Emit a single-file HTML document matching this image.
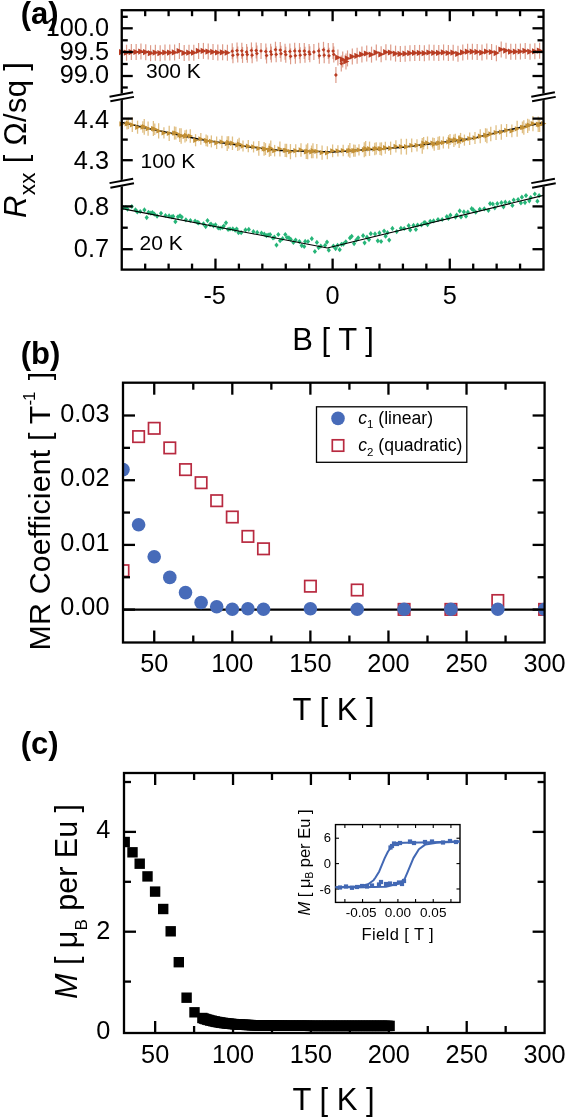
<!DOCTYPE html>
<html><head><meta charset="utf-8"><style>
html,body{margin:0;padding:0;background:#fff;}
svg{display:block;font-family:"Liberation Sans", sans-serif;filter:blur(0.4px);}
</style></head><body>
<svg width="566" height="1119" viewBox="0 0 566 1119">
<rect width="566" height="1119" fill="#fff"/>
<line x1="121.75" y1="51.60" x2="151.75" y2="52.20" stroke="#000" stroke-width="1.5" />
<line x1="121.75" y1="44.10" x2="121.75" y2="60.10" stroke="#d27a62" stroke-width="1.2" opacity="0.75"/>
<line x1="126.55" y1="44.71" x2="126.55" y2="60.71" stroke="#d27a62" stroke-width="1.2" opacity="0.75"/>
<line x1="131.36" y1="44.12" x2="131.36" y2="60.12" stroke="#d27a62" stroke-width="1.2" opacity="0.75"/>
<line x1="136.16" y1="44.05" x2="136.16" y2="60.05" stroke="#d27a62" stroke-width="1.2" opacity="0.75"/>
<line x1="140.96" y1="43.56" x2="140.96" y2="59.56" stroke="#d27a62" stroke-width="1.2" opacity="0.75"/>
<line x1="145.77" y1="44.13" x2="145.77" y2="60.13" stroke="#d27a62" stroke-width="1.2" opacity="0.75"/>
<line x1="150.57" y1="45.19" x2="150.57" y2="61.19" stroke="#d27a62" stroke-width="1.2" opacity="0.75"/>
<line x1="155.37" y1="44.64" x2="155.37" y2="60.64" stroke="#d27a62" stroke-width="1.2" opacity="0.75"/>
<line x1="160.18" y1="45.13" x2="160.18" y2="61.13" stroke="#d27a62" stroke-width="1.2" opacity="0.75"/>
<line x1="164.98" y1="44.50" x2="164.98" y2="60.50" stroke="#d27a62" stroke-width="1.2" opacity="0.75"/>
<line x1="169.78" y1="44.62" x2="169.78" y2="60.62" stroke="#d27a62" stroke-width="1.2" opacity="0.75"/>
<line x1="174.59" y1="44.45" x2="174.59" y2="60.45" stroke="#d27a62" stroke-width="1.2" opacity="0.75"/>
<line x1="179.39" y1="42.97" x2="179.39" y2="58.97" stroke="#d27a62" stroke-width="1.2" opacity="0.75"/>
<line x1="184.19" y1="44.98" x2="184.19" y2="60.98" stroke="#d27a62" stroke-width="1.2" opacity="0.75"/>
<line x1="189.00" y1="44.71" x2="189.00" y2="60.71" stroke="#d27a62" stroke-width="1.2" opacity="0.75"/>
<line x1="193.80" y1="44.70" x2="193.80" y2="60.70" stroke="#d27a62" stroke-width="1.2" opacity="0.75"/>
<line x1="198.60" y1="42.95" x2="198.60" y2="58.95" stroke="#d27a62" stroke-width="1.2" opacity="0.75"/>
<line x1="203.41" y1="42.90" x2="203.41" y2="58.90" stroke="#d27a62" stroke-width="1.2" opacity="0.75"/>
<line x1="208.21" y1="43.59" x2="208.21" y2="59.59" stroke="#d27a62" stroke-width="1.2" opacity="0.75"/>
<line x1="213.01" y1="43.93" x2="213.01" y2="59.93" stroke="#d27a62" stroke-width="1.2" opacity="0.75"/>
<line x1="217.82" y1="44.54" x2="217.82" y2="60.54" stroke="#d27a62" stroke-width="1.2" opacity="0.75"/>
<line x1="222.62" y1="44.26" x2="222.62" y2="60.26" stroke="#d27a62" stroke-width="1.2" opacity="0.75"/>
<line x1="227.42" y1="44.72" x2="227.42" y2="60.72" stroke="#d27a62" stroke-width="1.2" opacity="0.75"/>
<line x1="232.23" y1="43.22" x2="232.23" y2="59.22" stroke="#d27a62" stroke-width="1.2" opacity="0.75"/>
<line x1="232.93" y1="47.28" x2="232.93" y2="63.28" stroke="#d27a62" stroke-width="1.2" opacity="0.75"/>
<line x1="237.03" y1="42.60" x2="237.03" y2="58.60" stroke="#d27a62" stroke-width="1.2" opacity="0.75"/>
<line x1="237.73" y1="46.57" x2="237.73" y2="62.57" stroke="#d27a62" stroke-width="1.2" opacity="0.75"/>
<line x1="241.83" y1="42.76" x2="241.83" y2="58.76" stroke="#d27a62" stroke-width="1.2" opacity="0.75"/>
<line x1="242.53" y1="46.93" x2="242.53" y2="62.93" stroke="#d27a62" stroke-width="1.2" opacity="0.75"/>
<line x1="246.63" y1="44.02" x2="246.63" y2="60.02" stroke="#d27a62" stroke-width="1.2" opacity="0.75"/>
<line x1="247.34" y1="46.64" x2="247.34" y2="62.64" stroke="#d27a62" stroke-width="1.2" opacity="0.75"/>
<line x1="251.44" y1="42.43" x2="251.44" y2="58.43" stroke="#d27a62" stroke-width="1.2" opacity="0.75"/>
<line x1="252.14" y1="47.17" x2="252.14" y2="63.17" stroke="#d27a62" stroke-width="1.2" opacity="0.75"/>
<line x1="256.24" y1="42.50" x2="256.24" y2="58.50" stroke="#d27a62" stroke-width="1.2" opacity="0.75"/>
<line x1="256.94" y1="45.59" x2="256.94" y2="61.59" stroke="#d27a62" stroke-width="1.2" opacity="0.75"/>
<line x1="261.04" y1="42.93" x2="261.04" y2="58.93" stroke="#d27a62" stroke-width="1.2" opacity="0.75"/>
<line x1="265.85" y1="43.54" x2="265.85" y2="59.54" stroke="#d27a62" stroke-width="1.2" opacity="0.75"/>
<line x1="266.55" y1="47.49" x2="266.55" y2="63.49" stroke="#d27a62" stroke-width="1.2" opacity="0.75"/>
<line x1="270.65" y1="43.66" x2="270.65" y2="59.66" stroke="#d27a62" stroke-width="1.2" opacity="0.75"/>
<line x1="271.35" y1="46.41" x2="271.35" y2="62.41" stroke="#d27a62" stroke-width="1.2" opacity="0.75"/>
<line x1="275.45" y1="41.72" x2="275.45" y2="57.72" stroke="#d27a62" stroke-width="1.2" opacity="0.75"/>
<line x1="276.16" y1="46.37" x2="276.16" y2="62.37" stroke="#d27a62" stroke-width="1.2" opacity="0.75"/>
<line x1="280.26" y1="42.11" x2="280.26" y2="58.11" stroke="#d27a62" stroke-width="1.2" opacity="0.75"/>
<line x1="280.96" y1="45.71" x2="280.96" y2="61.71" stroke="#d27a62" stroke-width="1.2" opacity="0.75"/>
<line x1="285.06" y1="43.75" x2="285.06" y2="59.75" stroke="#d27a62" stroke-width="1.2" opacity="0.75"/>
<line x1="285.76" y1="46.73" x2="285.76" y2="62.73" stroke="#d27a62" stroke-width="1.2" opacity="0.75"/>
<line x1="289.86" y1="43.40" x2="289.86" y2="59.40" stroke="#d27a62" stroke-width="1.2" opacity="0.75"/>
<line x1="290.57" y1="48.30" x2="290.57" y2="64.30" stroke="#d27a62" stroke-width="1.2" opacity="0.75"/>
<line x1="294.67" y1="42.85" x2="294.67" y2="58.85" stroke="#d27a62" stroke-width="1.2" opacity="0.75"/>
<line x1="295.37" y1="47.67" x2="295.37" y2="63.67" stroke="#d27a62" stroke-width="1.2" opacity="0.75"/>
<line x1="299.47" y1="43.11" x2="299.47" y2="59.11" stroke="#d27a62" stroke-width="1.2" opacity="0.75"/>
<line x1="300.17" y1="47.18" x2="300.17" y2="63.18" stroke="#d27a62" stroke-width="1.2" opacity="0.75"/>
<line x1="304.27" y1="43.04" x2="304.27" y2="59.04" stroke="#d27a62" stroke-width="1.2" opacity="0.75"/>
<line x1="304.98" y1="46.63" x2="304.98" y2="62.63" stroke="#d27a62" stroke-width="1.2" opacity="0.75"/>
<line x1="309.08" y1="43.90" x2="309.08" y2="59.90" stroke="#d27a62" stroke-width="1.2" opacity="0.75"/>
<line x1="309.78" y1="46.16" x2="309.78" y2="62.16" stroke="#d27a62" stroke-width="1.2" opacity="0.75"/>
<line x1="313.88" y1="43.96" x2="313.88" y2="59.96" stroke="#d27a62" stroke-width="1.2" opacity="0.75"/>
<line x1="318.68" y1="42.87" x2="318.68" y2="58.87" stroke="#d27a62" stroke-width="1.2" opacity="0.75"/>
<line x1="319.39" y1="47.71" x2="319.39" y2="63.71" stroke="#d27a62" stroke-width="1.2" opacity="0.75"/>
<line x1="323.49" y1="41.83" x2="323.49" y2="57.83" stroke="#d27a62" stroke-width="1.2" opacity="0.75"/>
<line x1="324.19" y1="47.23" x2="324.19" y2="63.23" stroke="#d27a62" stroke-width="1.2" opacity="0.75"/>
<line x1="328.29" y1="43.08" x2="328.29" y2="59.08" stroke="#d27a62" stroke-width="1.2" opacity="0.75"/>
<line x1="328.99" y1="47.80" x2="328.99" y2="63.80" stroke="#d27a62" stroke-width="1.2" opacity="0.75"/>
<line x1="333.09" y1="43.06" x2="333.09" y2="59.06" stroke="#d27a62" stroke-width="1.2" opacity="0.75"/>
<line x1="333.80" y1="46.38" x2="333.80" y2="62.38" stroke="#d27a62" stroke-width="1.2" opacity="0.75"/>
<line x1="337.90" y1="49.53" x2="337.90" y2="65.53" stroke="#d27a62" stroke-width="1.2" opacity="0.75"/>
<line x1="342.70" y1="51.48" x2="342.70" y2="67.48" stroke="#d27a62" stroke-width="1.2" opacity="0.75"/>
<line x1="347.50" y1="50.41" x2="347.50" y2="66.41" stroke="#d27a62" stroke-width="1.2" opacity="0.75"/>
<line x1="352.31" y1="48.59" x2="352.31" y2="64.59" stroke="#d27a62" stroke-width="1.2" opacity="0.75"/>
<line x1="357.11" y1="47.81" x2="357.11" y2="63.81" stroke="#d27a62" stroke-width="1.2" opacity="0.75"/>
<line x1="361.91" y1="46.39" x2="361.91" y2="62.39" stroke="#d27a62" stroke-width="1.2" opacity="0.75"/>
<line x1="366.72" y1="45.55" x2="366.72" y2="61.55" stroke="#d27a62" stroke-width="1.2" opacity="0.75"/>
<line x1="371.52" y1="46.63" x2="371.52" y2="62.63" stroke="#d27a62" stroke-width="1.2" opacity="0.75"/>
<line x1="376.32" y1="44.57" x2="376.32" y2="60.57" stroke="#d27a62" stroke-width="1.2" opacity="0.75"/>
<line x1="381.13" y1="46.32" x2="381.13" y2="62.32" stroke="#d27a62" stroke-width="1.2" opacity="0.75"/>
<line x1="385.93" y1="44.23" x2="385.93" y2="60.23" stroke="#d27a62" stroke-width="1.2" opacity="0.75"/>
<line x1="390.73" y1="44.54" x2="390.73" y2="60.54" stroke="#d27a62" stroke-width="1.2" opacity="0.75"/>
<line x1="395.54" y1="45.61" x2="395.54" y2="61.61" stroke="#d27a62" stroke-width="1.2" opacity="0.75"/>
<line x1="400.34" y1="45.94" x2="400.34" y2="61.94" stroke="#d27a62" stroke-width="1.2" opacity="0.75"/>
<line x1="405.14" y1="45.66" x2="405.14" y2="61.66" stroke="#d27a62" stroke-width="1.2" opacity="0.75"/>
<line x1="409.95" y1="45.18" x2="409.95" y2="61.18" stroke="#d27a62" stroke-width="1.2" opacity="0.75"/>
<line x1="414.75" y1="44.95" x2="414.75" y2="60.95" stroke="#d27a62" stroke-width="1.2" opacity="0.75"/>
<line x1="419.55" y1="44.89" x2="419.55" y2="60.89" stroke="#d27a62" stroke-width="1.2" opacity="0.75"/>
<line x1="424.36" y1="45.16" x2="424.36" y2="61.16" stroke="#d27a62" stroke-width="1.2" opacity="0.75"/>
<line x1="429.16" y1="44.49" x2="429.16" y2="60.49" stroke="#d27a62" stroke-width="1.2" opacity="0.75"/>
<line x1="433.96" y1="44.78" x2="433.96" y2="60.78" stroke="#d27a62" stroke-width="1.2" opacity="0.75"/>
<line x1="438.77" y1="44.95" x2="438.77" y2="60.95" stroke="#d27a62" stroke-width="1.2" opacity="0.75"/>
<line x1="443.57" y1="44.42" x2="443.57" y2="60.42" stroke="#d27a62" stroke-width="1.2" opacity="0.75"/>
<line x1="448.37" y1="44.96" x2="448.37" y2="60.96" stroke="#d27a62" stroke-width="1.2" opacity="0.75"/>
<line x1="453.18" y1="44.74" x2="453.18" y2="60.74" stroke="#d27a62" stroke-width="1.2" opacity="0.75"/>
<line x1="457.98" y1="45.83" x2="457.98" y2="61.83" stroke="#d27a62" stroke-width="1.2" opacity="0.75"/>
<line x1="462.78" y1="44.41" x2="462.78" y2="60.41" stroke="#d27a62" stroke-width="1.2" opacity="0.75"/>
<line x1="467.59" y1="43.74" x2="467.59" y2="59.74" stroke="#d27a62" stroke-width="1.2" opacity="0.75"/>
<line x1="472.39" y1="43.71" x2="472.39" y2="59.71" stroke="#d27a62" stroke-width="1.2" opacity="0.75"/>
<line x1="477.19" y1="43.93" x2="477.19" y2="59.93" stroke="#d27a62" stroke-width="1.2" opacity="0.75"/>
<line x1="481.99" y1="44.61" x2="481.99" y2="60.61" stroke="#d27a62" stroke-width="1.2" opacity="0.75"/>
<line x1="486.80" y1="43.54" x2="486.80" y2="59.54" stroke="#d27a62" stroke-width="1.2" opacity="0.75"/>
<line x1="491.60" y1="44.05" x2="491.60" y2="60.05" stroke="#d27a62" stroke-width="1.2" opacity="0.75"/>
<line x1="496.40" y1="45.14" x2="496.40" y2="61.14" stroke="#d27a62" stroke-width="1.2" opacity="0.75"/>
<line x1="501.21" y1="41.55" x2="501.21" y2="57.55" stroke="#d27a62" stroke-width="1.2" opacity="0.75"/>
<line x1="506.01" y1="42.63" x2="506.01" y2="58.63" stroke="#d27a62" stroke-width="1.2" opacity="0.75"/>
<line x1="510.81" y1="43.66" x2="510.81" y2="59.66" stroke="#d27a62" stroke-width="1.2" opacity="0.75"/>
<line x1="515.62" y1="43.72" x2="515.62" y2="59.72" stroke="#d27a62" stroke-width="1.2" opacity="0.75"/>
<line x1="520.42" y1="43.52" x2="520.42" y2="59.52" stroke="#d27a62" stroke-width="1.2" opacity="0.75"/>
<line x1="525.22" y1="42.92" x2="525.22" y2="58.92" stroke="#d27a62" stroke-width="1.2" opacity="0.75"/>
<line x1="530.03" y1="43.72" x2="530.03" y2="59.72" stroke="#d27a62" stroke-width="1.2" opacity="0.75"/>
<line x1="534.83" y1="43.35" x2="534.83" y2="59.35" stroke="#d27a62" stroke-width="1.2" opacity="0.75"/>
<line x1="539.63" y1="42.64" x2="539.63" y2="58.64" stroke="#d27a62" stroke-width="1.2" opacity="0.75"/>
<line x1="335.91" y1="67.00" x2="335.91" y2="83.00" stroke="#d27a62" stroke-width="1.2" opacity="0.75"/>
<line x1="341.29" y1="55.50" x2="341.29" y2="71.50" stroke="#d27a62" stroke-width="1.2" opacity="0.75"/>
<line x1="345.98" y1="53.50" x2="345.98" y2="69.50" stroke="#d27a62" stroke-width="1.2" opacity="0.75"/>
<path d="M119.0 49.0L125.2 52.1L119.0 55.2Z" fill="#b83c22" opacity="1"/>
<path d="M123.8 49.6L130.0 52.7L123.8 55.8Z" fill="#b83c22" opacity="1"/>
<path d="M128.6 49.0L134.8 52.1L128.6 55.2Z" fill="#b83c22" opacity="1"/>
<path d="M133.4 48.9L139.6 52.0L133.4 55.1Z" fill="#b83c22" opacity="1"/>
<path d="M138.2 48.5L144.4 51.6L138.2 54.7Z" fill="#b83c22" opacity="1"/>
<path d="M143.0 49.0L149.2 52.1L143.0 55.2Z" fill="#b83c22" opacity="1"/>
<path d="M147.8 50.1L154.0 53.2L147.8 56.3Z" fill="#b83c22" opacity="1"/>
<path d="M152.6 49.5L158.8 52.6L152.6 55.7Z" fill="#b83c22" opacity="1"/>
<path d="M157.4 50.0L163.6 53.1L157.4 56.2Z" fill="#b83c22" opacity="1"/>
<path d="M162.2 49.4L168.4 52.5L162.2 55.6Z" fill="#b83c22" opacity="1"/>
<path d="M167.0 49.5L173.2 52.6L167.0 55.7Z" fill="#b83c22" opacity="1"/>
<path d="M171.8 49.3L178.0 52.4L171.8 55.5Z" fill="#b83c22" opacity="1"/>
<path d="M176.6 47.9L182.8 51.0L176.6 54.1Z" fill="#b83c22" opacity="1"/>
<path d="M181.4 49.9L187.6 53.0L181.4 56.1Z" fill="#b83c22" opacity="1"/>
<path d="M186.2 49.6L192.4 52.7L186.2 55.8Z" fill="#b83c22" opacity="1"/>
<path d="M191.0 49.6L197.2 52.7L191.0 55.8Z" fill="#b83c22" opacity="1"/>
<path d="M195.8 47.8L202.0 50.9L195.8 54.0Z" fill="#b83c22" opacity="1"/>
<path d="M200.6 47.8L206.8 50.9L200.6 54.0Z" fill="#b83c22" opacity="1"/>
<path d="M205.4 48.5L211.6 51.6L205.4 54.7Z" fill="#b83c22" opacity="1"/>
<path d="M210.2 48.8L216.4 51.9L210.2 55.0Z" fill="#b83c22" opacity="1"/>
<path d="M215.0 49.4L221.2 52.5L215.0 55.6Z" fill="#b83c22" opacity="1"/>
<path d="M219.8 49.2L226.0 52.3L219.8 55.4Z" fill="#b83c22" opacity="1"/>
<path d="M224.6 49.6L230.8 52.7L224.6 55.8Z" fill="#b83c22" opacity="1"/>
<path d="M232.2 49.3L234.1 51.2L232.2 53.1L230.3 51.2Z" fill="#b83c22"/>
<path d="M232.9 53.4L234.8 55.3L232.9 57.2L231.0 55.3Z" fill="#b83c22"/>
<path d="M237.0 48.7L238.9 50.6L237.0 52.5L235.1 50.6Z" fill="#b83c22"/>
<path d="M237.7 52.7L239.6 54.6L237.7 56.5L235.8 54.6Z" fill="#b83c22"/>
<path d="M241.8 48.9L243.7 50.8L241.8 52.7L239.9 50.8Z" fill="#b83c22"/>
<path d="M242.5 53.0L244.4 54.9L242.5 56.8L240.6 54.9Z" fill="#b83c22"/>
<path d="M246.6 50.1L248.5 52.0L246.6 53.9L244.7 52.0Z" fill="#b83c22"/>
<path d="M247.3 52.7L249.2 54.6L247.3 56.5L245.4 54.6Z" fill="#b83c22"/>
<path d="M251.4 48.5L253.3 50.4L251.4 52.3L249.5 50.4Z" fill="#b83c22"/>
<path d="M252.1 53.3L254.0 55.2L252.1 57.1L250.2 55.2Z" fill="#b83c22"/>
<path d="M256.2 48.6L258.1 50.5L256.2 52.4L254.3 50.5Z" fill="#b83c22"/>
<path d="M256.9 51.7L258.8 53.6L256.9 55.5L255.0 53.6Z" fill="#b83c22"/>
<path d="M261.0 49.0L262.9 50.9L261.0 52.8L259.1 50.9Z" fill="#b83c22"/>
<path d="M265.8 49.6L267.7 51.5L265.8 53.4L263.9 51.5Z" fill="#b83c22"/>
<path d="M266.6 53.6L268.5 55.5L266.6 57.4L264.7 55.5Z" fill="#b83c22"/>
<path d="M270.7 49.8L272.6 51.7L270.7 53.6L268.8 51.7Z" fill="#b83c22"/>
<path d="M271.4 52.5L273.3 54.4L271.4 56.3L269.5 54.4Z" fill="#b83c22"/>
<path d="M275.5 47.8L277.4 49.7L275.5 51.6L273.6 49.7Z" fill="#b83c22"/>
<path d="M276.2 52.5L278.1 54.4L276.2 56.3L274.3 54.4Z" fill="#b83c22"/>
<path d="M280.3 48.2L282.2 50.1L280.3 52.0L278.4 50.1Z" fill="#b83c22"/>
<path d="M281.0 51.8L282.9 53.7L281.0 55.6L279.1 53.7Z" fill="#b83c22"/>
<path d="M285.1 49.8L287.0 51.7L285.1 53.6L283.2 51.7Z" fill="#b83c22"/>
<path d="M285.8 52.8L287.7 54.7L285.8 56.6L283.9 54.7Z" fill="#b83c22"/>
<path d="M289.9 49.5L291.8 51.4L289.9 53.3L288.0 51.4Z" fill="#b83c22"/>
<path d="M290.6 54.4L292.5 56.3L290.6 58.2L288.7 56.3Z" fill="#b83c22"/>
<path d="M294.7 49.0L296.6 50.9L294.7 52.8L292.8 50.9Z" fill="#b83c22"/>
<path d="M295.4 53.8L297.3 55.7L295.4 57.6L293.5 55.7Z" fill="#b83c22"/>
<path d="M299.5 49.2L301.4 51.1L299.5 53.0L297.6 51.1Z" fill="#b83c22"/>
<path d="M300.2 53.3L302.1 55.2L300.2 57.1L298.3 55.2Z" fill="#b83c22"/>
<path d="M304.3 49.1L306.2 51.0L304.3 52.9L302.4 51.0Z" fill="#b83c22"/>
<path d="M305.0 52.7L306.9 54.6L305.0 56.5L303.1 54.6Z" fill="#b83c22"/>
<path d="M309.1 50.0L311.0 51.9L309.1 53.8L307.2 51.9Z" fill="#b83c22"/>
<path d="M309.8 52.3L311.7 54.2L309.8 56.1L307.9 54.2Z" fill="#b83c22"/>
<path d="M313.9 50.1L315.8 52.0L313.9 53.9L312.0 52.0Z" fill="#b83c22"/>
<path d="M318.7 49.0L320.6 50.9L318.7 52.8L316.8 50.9Z" fill="#b83c22"/>
<path d="M319.4 53.8L321.3 55.7L319.4 57.6L317.5 55.7Z" fill="#b83c22"/>
<path d="M323.5 47.9L325.4 49.8L323.5 51.7L321.6 49.8Z" fill="#b83c22"/>
<path d="M324.2 53.3L326.1 55.2L324.2 57.1L322.3 55.2Z" fill="#b83c22"/>
<path d="M328.3 49.2L330.2 51.1L328.3 53.0L326.4 51.1Z" fill="#b83c22"/>
<path d="M329.0 53.9L330.9 55.8L329.0 57.7L327.1 55.8Z" fill="#b83c22"/>
<path d="M333.1 49.2L335.0 51.1L333.1 53.0L331.2 51.1Z" fill="#b83c22"/>
<path d="M333.8 52.5L335.7 54.4L333.8 56.3L331.9 54.4Z" fill="#b83c22"/>
<path d="M335.1 54.4L341.3 57.5L335.1 60.6Z" fill="#b83c22" opacity="1"/>
<path d="M339.9 56.4L346.1 59.5L339.9 62.6Z" fill="#b83c22" opacity="1"/>
<path d="M344.7 55.3L350.9 58.4L344.7 61.5Z" fill="#b83c22" opacity="1"/>
<path d="M349.5 53.5L355.7 56.6L349.5 59.7Z" fill="#b83c22" opacity="1"/>
<path d="M354.3 52.7L360.5 55.8L354.3 58.9Z" fill="#b83c22" opacity="1"/>
<path d="M359.1 51.3L365.3 54.4L359.1 57.5Z" fill="#b83c22" opacity="1"/>
<path d="M363.9 50.4L370.1 53.5L363.9 56.6Z" fill="#b83c22" opacity="1"/>
<path d="M368.7 51.5L374.9 54.6L368.7 57.7Z" fill="#b83c22" opacity="1"/>
<path d="M373.5 49.5L379.7 52.6L373.5 55.7Z" fill="#b83c22" opacity="1"/>
<path d="M378.3 51.2L384.5 54.3L378.3 57.4Z" fill="#b83c22" opacity="1"/>
<path d="M383.1 49.1L389.3 52.2L383.1 55.3Z" fill="#b83c22" opacity="1"/>
<path d="M387.9 49.4L394.1 52.5L387.9 55.6Z" fill="#b83c22" opacity="1"/>
<path d="M392.7 50.5L398.9 53.6L392.7 56.7Z" fill="#b83c22" opacity="1"/>
<path d="M397.5 50.8L403.7 53.9L397.5 57.0Z" fill="#b83c22" opacity="1"/>
<path d="M402.4 50.6L408.6 53.7L402.4 56.8Z" fill="#b83c22" opacity="1"/>
<path d="M407.2 50.1L413.4 53.2L407.2 56.3Z" fill="#b83c22" opacity="1"/>
<path d="M412.0 49.8L418.2 52.9L412.0 56.0Z" fill="#b83c22" opacity="1"/>
<path d="M416.8 49.8L423.0 52.9L416.8 56.0Z" fill="#b83c22" opacity="1"/>
<path d="M421.6 50.1L427.8 53.2L421.6 56.3Z" fill="#b83c22" opacity="1"/>
<path d="M426.4 49.4L432.6 52.5L426.4 55.6Z" fill="#b83c22" opacity="1"/>
<path d="M431.2 49.7L437.4 52.8L431.2 55.9Z" fill="#b83c22" opacity="1"/>
<path d="M436.0 49.8L442.2 52.9L436.0 56.0Z" fill="#b83c22" opacity="1"/>
<path d="M440.8 49.3L447.0 52.4L440.8 55.5Z" fill="#b83c22" opacity="1"/>
<path d="M445.6 49.9L451.8 53.0L445.6 56.1Z" fill="#b83c22" opacity="1"/>
<path d="M450.4 49.6L456.6 52.7L450.4 55.8Z" fill="#b83c22" opacity="1"/>
<path d="M455.2 50.7L461.4 53.8L455.2 56.9Z" fill="#b83c22" opacity="1"/>
<path d="M460.0 49.3L466.2 52.4L460.0 55.5Z" fill="#b83c22" opacity="1"/>
<path d="M464.8 48.6L471.0 51.7L464.8 54.8Z" fill="#b83c22" opacity="1"/>
<path d="M469.6 48.6L475.8 51.7L469.6 54.8Z" fill="#b83c22" opacity="1"/>
<path d="M474.4 48.8L480.6 51.9L474.4 55.0Z" fill="#b83c22" opacity="1"/>
<path d="M479.2 49.5L485.4 52.6L479.2 55.7Z" fill="#b83c22" opacity="1"/>
<path d="M484.0 48.4L490.2 51.5L484.0 54.6Z" fill="#b83c22" opacity="1"/>
<path d="M488.8 48.9L495.0 52.0L488.8 55.1Z" fill="#b83c22" opacity="1"/>
<path d="M493.6 50.0L499.8 53.1L493.6 56.2Z" fill="#b83c22" opacity="1"/>
<path d="M498.4 46.4L504.6 49.5L498.4 52.6Z" fill="#b83c22" opacity="1"/>
<path d="M503.2 47.5L509.4 50.6L503.2 53.7Z" fill="#b83c22" opacity="1"/>
<path d="M508.0 48.6L514.2 51.7L508.0 54.8Z" fill="#b83c22" opacity="1"/>
<path d="M512.8 48.6L519.0 51.7L512.8 54.8Z" fill="#b83c22" opacity="1"/>
<path d="M517.6 48.4L523.8 51.5L517.6 54.6Z" fill="#b83c22" opacity="1"/>
<path d="M522.4 47.8L528.6 50.9L522.4 54.0Z" fill="#b83c22" opacity="1"/>
<path d="M527.2 48.6L533.4 51.7L527.2 54.8Z" fill="#b83c22" opacity="1"/>
<path d="M532.0 48.2L538.2 51.3L532.0 54.4Z" fill="#b83c22" opacity="1"/>
<path d="M536.8 47.5L543.0 50.6L536.8 53.7Z" fill="#b83c22" opacity="1"/>
<path d="M335.9 73.1L337.8 75.0L335.9 76.9L334.0 75.0Z" fill="#b83c22"/>
<path d="M341.3 61.6L343.2 63.5L341.3 65.4L339.4 63.5Z" fill="#b83c22"/>
<path d="M343.2 58.4L349.4 61.5L343.2 64.6Z" fill="#b83c22" opacity="1"/>
<line x1="121.75" y1="116.71" x2="121.75" y2="131.21" stroke="#dbb46e" stroke-width="1.3" opacity="0.85"/>
<line x1="127.02" y1="118.16" x2="127.02" y2="129.61" stroke="#dbb46e" stroke-width="1.3" opacity="0.85"/>
<line x1="128.43" y1="117.80" x2="128.43" y2="129.09" stroke="#dbb46e" stroke-width="1.3" opacity="0.85"/>
<line x1="132.29" y1="117.58" x2="132.29" y2="132.03" stroke="#dbb46e" stroke-width="1.3" opacity="0.85"/>
<line x1="137.57" y1="120.64" x2="137.57" y2="133.76" stroke="#dbb46e" stroke-width="1.3" opacity="0.85"/>
<line x1="142.84" y1="121.34" x2="142.84" y2="132.71" stroke="#dbb46e" stroke-width="1.3" opacity="0.85"/>
<line x1="144.24" y1="118.94" x2="144.24" y2="134.63" stroke="#dbb46e" stroke-width="1.3" opacity="0.85"/>
<line x1="148.11" y1="121.54" x2="148.11" y2="135.71" stroke="#dbb46e" stroke-width="1.3" opacity="0.85"/>
<line x1="153.38" y1="121.00" x2="153.38" y2="136.01" stroke="#dbb46e" stroke-width="1.3" opacity="0.85"/>
<line x1="154.79" y1="123.47" x2="154.79" y2="134.89" stroke="#dbb46e" stroke-width="1.3" opacity="0.85"/>
<line x1="158.65" y1="123.24" x2="158.65" y2="138.53" stroke="#dbb46e" stroke-width="1.3" opacity="0.85"/>
<line x1="163.92" y1="127.25" x2="163.92" y2="138.58" stroke="#dbb46e" stroke-width="1.3" opacity="0.85"/>
<line x1="169.20" y1="125.68" x2="169.20" y2="141.00" stroke="#dbb46e" stroke-width="1.3" opacity="0.85"/>
<line x1="174.47" y1="126.40" x2="174.47" y2="139.67" stroke="#dbb46e" stroke-width="1.3" opacity="0.85"/>
<line x1="175.87" y1="126.80" x2="175.87" y2="139.50" stroke="#dbb46e" stroke-width="1.3" opacity="0.85"/>
<line x1="179.74" y1="128.26" x2="179.74" y2="142.02" stroke="#dbb46e" stroke-width="1.3" opacity="0.85"/>
<line x1="181.15" y1="128.18" x2="181.15" y2="143.82" stroke="#dbb46e" stroke-width="1.3" opacity="0.85"/>
<line x1="185.01" y1="130.24" x2="185.01" y2="142.58" stroke="#dbb46e" stroke-width="1.3" opacity="0.85"/>
<line x1="186.42" y1="129.62" x2="186.42" y2="141.26" stroke="#dbb46e" stroke-width="1.3" opacity="0.85"/>
<line x1="190.28" y1="129.22" x2="190.28" y2="142.86" stroke="#dbb46e" stroke-width="1.3" opacity="0.85"/>
<line x1="195.56" y1="134.12" x2="195.56" y2="146.31" stroke="#dbb46e" stroke-width="1.3" opacity="0.85"/>
<line x1="200.83" y1="133.11" x2="200.83" y2="144.66" stroke="#dbb46e" stroke-width="1.3" opacity="0.85"/>
<line x1="206.10" y1="134.55" x2="206.10" y2="146.36" stroke="#dbb46e" stroke-width="1.3" opacity="0.85"/>
<line x1="207.51" y1="135.45" x2="207.51" y2="146.70" stroke="#dbb46e" stroke-width="1.3" opacity="0.85"/>
<line x1="211.37" y1="135.40" x2="211.37" y2="147.41" stroke="#dbb46e" stroke-width="1.3" opacity="0.85"/>
<line x1="216.64" y1="136.49" x2="216.64" y2="149.05" stroke="#dbb46e" stroke-width="1.3" opacity="0.85"/>
<line x1="221.92" y1="135.63" x2="221.92" y2="148.16" stroke="#dbb46e" stroke-width="1.3" opacity="0.85"/>
<line x1="227.19" y1="136.27" x2="227.19" y2="151.07" stroke="#dbb46e" stroke-width="1.3" opacity="0.85"/>
<line x1="228.59" y1="136.16" x2="228.59" y2="148.61" stroke="#dbb46e" stroke-width="1.3" opacity="0.85"/>
<line x1="232.46" y1="136.49" x2="232.46" y2="149.99" stroke="#dbb46e" stroke-width="1.3" opacity="0.85"/>
<line x1="237.73" y1="139.20" x2="237.73" y2="151.09" stroke="#dbb46e" stroke-width="1.3" opacity="0.85"/>
<line x1="239.14" y1="137.64" x2="239.14" y2="150.37" stroke="#dbb46e" stroke-width="1.3" opacity="0.85"/>
<line x1="243.00" y1="140.53" x2="243.00" y2="151.62" stroke="#dbb46e" stroke-width="1.3" opacity="0.85"/>
<line x1="248.27" y1="140.09" x2="248.27" y2="152.34" stroke="#dbb46e" stroke-width="1.3" opacity="0.85"/>
<line x1="253.55" y1="141.39" x2="253.55" y2="152.47" stroke="#dbb46e" stroke-width="1.3" opacity="0.85"/>
<line x1="258.82" y1="141.07" x2="258.82" y2="155.73" stroke="#dbb46e" stroke-width="1.3" opacity="0.85"/>
<line x1="264.09" y1="141.92" x2="264.09" y2="155.67" stroke="#dbb46e" stroke-width="1.3" opacity="0.85"/>
<line x1="265.50" y1="143.13" x2="265.50" y2="155.07" stroke="#dbb46e" stroke-width="1.3" opacity="0.85"/>
<line x1="269.36" y1="143.47" x2="269.36" y2="156.84" stroke="#dbb46e" stroke-width="1.3" opacity="0.85"/>
<line x1="270.77" y1="140.40" x2="270.77" y2="156.08" stroke="#dbb46e" stroke-width="1.3" opacity="0.85"/>
<line x1="274.63" y1="144.89" x2="274.63" y2="156.42" stroke="#dbb46e" stroke-width="1.3" opacity="0.85"/>
<line x1="279.91" y1="141.45" x2="279.91" y2="156.55" stroke="#dbb46e" stroke-width="1.3" opacity="0.85"/>
<line x1="285.18" y1="143.77" x2="285.18" y2="156.93" stroke="#dbb46e" stroke-width="1.3" opacity="0.85"/>
<line x1="286.58" y1="143.75" x2="286.58" y2="157.23" stroke="#dbb46e" stroke-width="1.3" opacity="0.85"/>
<line x1="290.45" y1="144.07" x2="290.45" y2="159.24" stroke="#dbb46e" stroke-width="1.3" opacity="0.85"/>
<line x1="295.72" y1="144.31" x2="295.72" y2="157.28" stroke="#dbb46e" stroke-width="1.3" opacity="0.85"/>
<line x1="300.99" y1="143.23" x2="300.99" y2="156.76" stroke="#dbb46e" stroke-width="1.3" opacity="0.85"/>
<line x1="306.27" y1="144.53" x2="306.27" y2="158.97" stroke="#dbb46e" stroke-width="1.3" opacity="0.85"/>
<line x1="307.67" y1="143.29" x2="307.67" y2="159.20" stroke="#dbb46e" stroke-width="1.3" opacity="0.85"/>
<line x1="311.54" y1="145.55" x2="311.54" y2="158.27" stroke="#dbb46e" stroke-width="1.3" opacity="0.85"/>
<line x1="312.94" y1="143.17" x2="312.94" y2="158.33" stroke="#dbb46e" stroke-width="1.3" opacity="0.85"/>
<line x1="316.81" y1="144.05" x2="316.81" y2="158.59" stroke="#dbb46e" stroke-width="1.3" opacity="0.85"/>
<line x1="322.08" y1="145.52" x2="322.08" y2="159.70" stroke="#dbb46e" stroke-width="1.3" opacity="0.85"/>
<line x1="327.35" y1="146.32" x2="327.35" y2="159.34" stroke="#dbb46e" stroke-width="1.3" opacity="0.85"/>
<line x1="332.62" y1="144.46" x2="332.62" y2="157.20" stroke="#dbb46e" stroke-width="1.3" opacity="0.85"/>
<line x1="337.90" y1="145.32" x2="337.90" y2="156.60" stroke="#dbb46e" stroke-width="1.3" opacity="0.85"/>
<line x1="343.17" y1="144.70" x2="343.17" y2="156.35" stroke="#dbb46e" stroke-width="1.3" opacity="0.85"/>
<line x1="348.44" y1="145.23" x2="348.44" y2="156.58" stroke="#dbb46e" stroke-width="1.3" opacity="0.85"/>
<line x1="349.85" y1="142.97" x2="349.85" y2="157.67" stroke="#dbb46e" stroke-width="1.3" opacity="0.85"/>
<line x1="353.71" y1="144.56" x2="353.71" y2="156.84" stroke="#dbb46e" stroke-width="1.3" opacity="0.85"/>
<line x1="355.12" y1="144.84" x2="355.12" y2="156.66" stroke="#dbb46e" stroke-width="1.3" opacity="0.85"/>
<line x1="358.98" y1="144.15" x2="358.98" y2="155.57" stroke="#dbb46e" stroke-width="1.3" opacity="0.85"/>
<line x1="364.26" y1="142.14" x2="364.26" y2="157.35" stroke="#dbb46e" stroke-width="1.3" opacity="0.85"/>
<line x1="365.66" y1="140.93" x2="365.66" y2="156.28" stroke="#dbb46e" stroke-width="1.3" opacity="0.85"/>
<line x1="369.53" y1="141.58" x2="369.53" y2="155.93" stroke="#dbb46e" stroke-width="1.3" opacity="0.85"/>
<line x1="374.80" y1="142.87" x2="374.80" y2="155.28" stroke="#dbb46e" stroke-width="1.3" opacity="0.85"/>
<line x1="376.21" y1="142.36" x2="376.21" y2="154.57" stroke="#dbb46e" stroke-width="1.3" opacity="0.85"/>
<line x1="380.07" y1="142.42" x2="380.07" y2="154.88" stroke="#dbb46e" stroke-width="1.3" opacity="0.85"/>
<line x1="381.48" y1="142.34" x2="381.48" y2="155.63" stroke="#dbb46e" stroke-width="1.3" opacity="0.85"/>
<line x1="385.34" y1="141.87" x2="385.34" y2="153.66" stroke="#dbb46e" stroke-width="1.3" opacity="0.85"/>
<line x1="390.62" y1="141.59" x2="390.62" y2="154.82" stroke="#dbb46e" stroke-width="1.3" opacity="0.85"/>
<line x1="395.89" y1="140.29" x2="395.89" y2="152.61" stroke="#dbb46e" stroke-width="1.3" opacity="0.85"/>
<line x1="401.16" y1="138.74" x2="401.16" y2="154.55" stroke="#dbb46e" stroke-width="1.3" opacity="0.85"/>
<line x1="406.43" y1="138.77" x2="406.43" y2="154.63" stroke="#dbb46e" stroke-width="1.3" opacity="0.85"/>
<line x1="411.70" y1="138.56" x2="411.70" y2="152.29" stroke="#dbb46e" stroke-width="1.3" opacity="0.85"/>
<line x1="416.97" y1="139.21" x2="416.97" y2="151.43" stroke="#dbb46e" stroke-width="1.3" opacity="0.85"/>
<line x1="422.25" y1="137.94" x2="422.25" y2="153.77" stroke="#dbb46e" stroke-width="1.3" opacity="0.85"/>
<line x1="423.65" y1="136.88" x2="423.65" y2="149.43" stroke="#dbb46e" stroke-width="1.3" opacity="0.85"/>
<line x1="427.52" y1="136.47" x2="427.52" y2="149.25" stroke="#dbb46e" stroke-width="1.3" opacity="0.85"/>
<line x1="432.79" y1="137.54" x2="432.79" y2="148.54" stroke="#dbb46e" stroke-width="1.3" opacity="0.85"/>
<line x1="434.20" y1="137.89" x2="434.20" y2="150.80" stroke="#dbb46e" stroke-width="1.3" opacity="0.85"/>
<line x1="438.06" y1="136.69" x2="438.06" y2="150.07" stroke="#dbb46e" stroke-width="1.3" opacity="0.85"/>
<line x1="439.47" y1="136.20" x2="439.47" y2="149.71" stroke="#dbb46e" stroke-width="1.3" opacity="0.85"/>
<line x1="443.33" y1="136.53" x2="443.33" y2="148.54" stroke="#dbb46e" stroke-width="1.3" opacity="0.85"/>
<line x1="448.61" y1="135.18" x2="448.61" y2="148.70" stroke="#dbb46e" stroke-width="1.3" opacity="0.85"/>
<line x1="450.01" y1="134.07" x2="450.01" y2="145.10" stroke="#dbb46e" stroke-width="1.3" opacity="0.85"/>
<line x1="453.88" y1="134.62" x2="453.88" y2="146.95" stroke="#dbb46e" stroke-width="1.3" opacity="0.85"/>
<line x1="455.28" y1="133.81" x2="455.28" y2="145.26" stroke="#dbb46e" stroke-width="1.3" opacity="0.85"/>
<line x1="459.15" y1="134.92" x2="459.15" y2="147.92" stroke="#dbb46e" stroke-width="1.3" opacity="0.85"/>
<line x1="460.56" y1="132.89" x2="460.56" y2="144.10" stroke="#dbb46e" stroke-width="1.3" opacity="0.85"/>
<line x1="464.42" y1="134.56" x2="464.42" y2="145.67" stroke="#dbb46e" stroke-width="1.3" opacity="0.85"/>
<line x1="469.69" y1="132.38" x2="469.69" y2="144.90" stroke="#dbb46e" stroke-width="1.3" opacity="0.85"/>
<line x1="474.97" y1="131.88" x2="474.97" y2="144.05" stroke="#dbb46e" stroke-width="1.3" opacity="0.85"/>
<line x1="480.24" y1="129.26" x2="480.24" y2="143.18" stroke="#dbb46e" stroke-width="1.3" opacity="0.85"/>
<line x1="485.51" y1="128.23" x2="485.51" y2="141.88" stroke="#dbb46e" stroke-width="1.3" opacity="0.85"/>
<line x1="486.92" y1="128.45" x2="486.92" y2="143.20" stroke="#dbb46e" stroke-width="1.3" opacity="0.85"/>
<line x1="490.78" y1="126.84" x2="490.78" y2="141.13" stroke="#dbb46e" stroke-width="1.3" opacity="0.85"/>
<line x1="496.05" y1="125.34" x2="496.05" y2="139.92" stroke="#dbb46e" stroke-width="1.3" opacity="0.85"/>
<line x1="501.32" y1="124.35" x2="501.32" y2="139.75" stroke="#dbb46e" stroke-width="1.3" opacity="0.85"/>
<line x1="506.60" y1="123.98" x2="506.60" y2="136.92" stroke="#dbb46e" stroke-width="1.3" opacity="0.85"/>
<line x1="511.87" y1="124.55" x2="511.87" y2="137.18" stroke="#dbb46e" stroke-width="1.3" opacity="0.85"/>
<line x1="517.14" y1="120.86" x2="517.14" y2="136.78" stroke="#dbb46e" stroke-width="1.3" opacity="0.85"/>
<line x1="522.41" y1="121.51" x2="522.41" y2="133.25" stroke="#dbb46e" stroke-width="1.3" opacity="0.85"/>
<line x1="523.82" y1="120.18" x2="523.82" y2="134.80" stroke="#dbb46e" stroke-width="1.3" opacity="0.85"/>
<line x1="527.68" y1="118.86" x2="527.68" y2="133.08" stroke="#dbb46e" stroke-width="1.3" opacity="0.85"/>
<line x1="529.09" y1="119.49" x2="529.09" y2="130.71" stroke="#dbb46e" stroke-width="1.3" opacity="0.85"/>
<line x1="532.96" y1="116.00" x2="532.96" y2="131.18" stroke="#dbb46e" stroke-width="1.3" opacity="0.85"/>
<line x1="538.23" y1="116.52" x2="538.23" y2="131.98" stroke="#dbb46e" stroke-width="1.3" opacity="0.85"/>
<line x1="539.63" y1="117.88" x2="539.63" y2="132.02" stroke="#dbb46e" stroke-width="1.3" opacity="0.85"/>
<line x1="543.50" y1="116.25" x2="543.50" y2="130.92" stroke="#dbb46e" stroke-width="1.3" opacity="0.85"/>
<polyline points="121.8,122.5 125.3,123.3 128.8,124.1 132.3,124.8 135.8,125.6 139.3,126.4 142.8,127.2 146.4,128.0 149.9,128.7 153.4,129.5 156.9,130.3 160.4,131.1 163.9,131.8 167.4,132.6 171.0,133.3 174.5,134.1 178.0,134.8 181.5,135.6 185.0,136.3 188.5,137.1 192.0,137.8 195.6,138.6 199.1,139.3 202.6,139.8 206.1,140.4 209.6,140.9 213.1,141.4 216.6,142.0 220.2,142.5 223.7,143.0 227.2,143.6 230.7,144.1 234.2,144.6 237.7,145.1 241.2,145.7 244.8,146.2 248.3,146.7 251.8,147.2 255.3,147.6 258.8,148.0 262.3,148.4 265.8,148.8 269.4,149.3 272.9,149.7 276.4,150.1 279.9,150.5 283.4,150.6 286.9,150.7 290.4,150.8 294.0,150.9 297.5,151.0 301.0,151.1 304.5,151.2 308.0,151.3 311.5,151.4 315.1,151.5 318.6,151.6 322.1,151.7 325.6,151.8 329.1,151.9 332.6,152.0 336.1,151.7 339.7,151.5 343.2,151.3 346.7,151.0 350.2,150.8 353.7,150.6 357.2,150.3 360.7,150.1 364.3,149.9 367.8,149.6 371.3,149.4 374.8,149.2 378.3,148.9 381.8,148.7 385.3,148.5 388.9,148.2 392.4,148.0 395.9,147.8 399.4,147.5 402.9,147.2 406.4,146.7 409.9,146.3 413.5,145.9 417.0,145.5 420.5,145.0 424.0,144.6 427.5,144.2 431.0,143.8 434.5,143.4 438.1,142.9 441.6,142.5 445.1,142.1 448.6,141.7 452.1,141.2 455.6,140.7 459.1,140.3 462.7,139.8 466.2,139.3 469.7,138.8 473.2,138.2 476.7,137.4 480.2,136.5 483.8,135.7 487.3,134.8 490.8,134.0 494.3,133.2 497.8,132.3 501.3,131.5 504.8,130.8 508.4,130.0 511.9,129.3 515.4,128.5 518.9,127.8 522.4,127.0 525.9,126.3 529.4,125.5 533.0,124.8 536.5,124.0 540.0,123.3 543.5,122.5" fill="none" stroke="#000" stroke-width="1.5" stroke-linejoin="round"/>
<path d="M119.4 121.3L124.7 124.0L119.4 126.6Z" fill="#c28f34" opacity="1"/>
<path d="M124.6 121.2L129.9 123.9L124.6 126.5Z" fill="#c28f34" opacity="1"/>
<path d="M126.0 120.8L131.3 123.4L126.0 126.1Z" fill="#c28f34" opacity="1"/>
<path d="M129.9 122.2L135.2 124.8L129.9 127.5Z" fill="#c28f34" opacity="1"/>
<path d="M135.2 124.6L140.5 127.2L135.2 129.9Z" fill="#c28f34" opacity="1"/>
<path d="M140.5 124.4L145.8 127.0L140.5 129.7Z" fill="#c28f34" opacity="1"/>
<path d="M141.9 124.1L147.2 126.8L141.9 129.4Z" fill="#c28f34" opacity="1"/>
<path d="M145.7 126.0L151.0 128.6L145.7 131.3Z" fill="#c28f34" opacity="1"/>
<path d="M151.0 125.9L156.3 128.5L151.0 131.2Z" fill="#c28f34" opacity="1"/>
<path d="M152.4 126.5L157.7 129.2L152.4 131.8Z" fill="#c28f34" opacity="1"/>
<path d="M156.3 128.2L161.6 130.9L156.3 133.5Z" fill="#c28f34" opacity="1"/>
<path d="M161.5 130.3L166.8 132.9L161.5 135.6Z" fill="#c28f34" opacity="1"/>
<path d="M166.8 130.7L172.1 133.3L166.8 136.0Z" fill="#c28f34" opacity="1"/>
<path d="M172.1 130.4L177.4 133.0L172.1 135.7Z" fill="#c28f34" opacity="1"/>
<path d="M173.5 130.5L178.8 133.1L173.5 135.8Z" fill="#c28f34" opacity="1"/>
<path d="M177.4 132.5L182.7 135.1L177.4 137.8Z" fill="#c28f34" opacity="1"/>
<path d="M178.8 133.3L184.1 136.0L178.8 138.6Z" fill="#c28f34" opacity="1"/>
<path d="M182.6 133.8L187.9 136.4L182.6 139.1Z" fill="#c28f34" opacity="1"/>
<path d="M184.0 132.8L189.3 135.4L184.0 138.1Z" fill="#c28f34" opacity="1"/>
<path d="M187.9 133.4L193.2 136.0L187.9 138.7Z" fill="#c28f34" opacity="1"/>
<path d="M193.2 137.6L198.5 140.2L193.2 142.9Z" fill="#c28f34" opacity="1"/>
<path d="M198.4 136.2L203.7 138.9L198.4 141.5Z" fill="#c28f34" opacity="1"/>
<path d="M203.7 137.8L209.0 140.5L203.7 143.1Z" fill="#c28f34" opacity="1"/>
<path d="M205.1 138.4L210.4 141.1L205.1 143.7Z" fill="#c28f34" opacity="1"/>
<path d="M209.0 138.8L214.3 141.4L209.0 144.1Z" fill="#c28f34" opacity="1"/>
<path d="M214.3 140.1L219.6 142.8L214.3 145.4Z" fill="#c28f34" opacity="1"/>
<path d="M219.5 139.2L224.8 141.9L219.5 144.5Z" fill="#c28f34" opacity="1"/>
<path d="M224.8 141.0L230.1 143.7L224.8 146.3Z" fill="#c28f34" opacity="1"/>
<path d="M226.2 139.7L231.5 142.4L226.2 145.0Z" fill="#c28f34" opacity="1"/>
<path d="M230.1 140.6L235.4 143.2L230.1 145.9Z" fill="#c28f34" opacity="1"/>
<path d="M235.3 142.5L240.6 145.1L235.3 147.8Z" fill="#c28f34" opacity="1"/>
<path d="M236.8 141.4L242.1 144.0L236.8 146.7Z" fill="#c28f34" opacity="1"/>
<path d="M240.6 143.4L245.9 146.1L240.6 148.7Z" fill="#c28f34" opacity="1"/>
<path d="M245.9 143.6L251.2 146.2L245.9 148.9Z" fill="#c28f34" opacity="1"/>
<path d="M251.2 144.3L256.5 146.9L251.2 149.6Z" fill="#c28f34" opacity="1"/>
<path d="M256.4 145.7L261.7 148.4L256.4 151.0Z" fill="#c28f34" opacity="1"/>
<path d="M261.7 146.1L267.0 148.8L261.7 151.4Z" fill="#c28f34" opacity="1"/>
<path d="M263.1 146.5L268.4 149.1L263.1 151.8Z" fill="#c28f34" opacity="1"/>
<path d="M267.0 147.5L272.3 150.2L267.0 152.8Z" fill="#c28f34" opacity="1"/>
<path d="M268.4 145.6L273.7 148.2L268.4 150.9Z" fill="#c28f34" opacity="1"/>
<path d="M272.2 148.0L277.5 150.7L272.2 153.3Z" fill="#c28f34" opacity="1"/>
<path d="M277.5 146.3L282.8 149.0L277.5 151.6Z" fill="#c28f34" opacity="1"/>
<path d="M282.8 147.7L288.1 150.3L282.8 153.0Z" fill="#c28f34" opacity="1"/>
<path d="M284.2 147.8L289.5 150.5L284.2 153.1Z" fill="#c28f34" opacity="1"/>
<path d="M288.1 149.0L293.4 151.7L288.1 154.3Z" fill="#c28f34" opacity="1"/>
<path d="M293.3 148.1L298.6 150.8L293.3 153.4Z" fill="#c28f34" opacity="1"/>
<path d="M298.6 147.3L303.9 150.0L298.6 152.6Z" fill="#c28f34" opacity="1"/>
<path d="M303.9 149.1L309.2 151.7L303.9 154.4Z" fill="#c28f34" opacity="1"/>
<path d="M305.3 148.6L310.6 151.2L305.3 153.9Z" fill="#c28f34" opacity="1"/>
<path d="M309.2 149.3L314.5 151.9L309.2 154.6Z" fill="#c28f34" opacity="1"/>
<path d="M310.6 148.1L315.9 150.7L310.6 153.4Z" fill="#c28f34" opacity="1"/>
<path d="M314.4 148.7L319.7 151.3L314.4 154.0Z" fill="#c28f34" opacity="1"/>
<path d="M319.7 150.0L325.0 152.6L319.7 155.3Z" fill="#c28f34" opacity="1"/>
<path d="M325.0 150.2L330.3 152.8L325.0 155.5Z" fill="#c28f34" opacity="1"/>
<path d="M330.2 148.2L335.5 150.8L330.2 153.5Z" fill="#c28f34" opacity="1"/>
<path d="M335.5 148.3L340.8 151.0L335.5 153.6Z" fill="#c28f34" opacity="1"/>
<path d="M340.8 147.9L346.1 150.5L340.8 153.2Z" fill="#c28f34" opacity="1"/>
<path d="M346.1 148.3L351.4 150.9L346.1 153.6Z" fill="#c28f34" opacity="1"/>
<path d="M347.5 147.7L352.8 150.3L347.5 153.0Z" fill="#c28f34" opacity="1"/>
<path d="M351.3 148.1L356.6 150.7L351.3 153.4Z" fill="#c28f34" opacity="1"/>
<path d="M352.7 148.1L358.0 150.8L352.7 153.4Z" fill="#c28f34" opacity="1"/>
<path d="M356.6 147.2L361.9 149.9L356.6 152.5Z" fill="#c28f34" opacity="1"/>
<path d="M361.9 147.1L367.2 149.7L361.9 152.4Z" fill="#c28f34" opacity="1"/>
<path d="M363.3 146.0L368.6 148.6L363.3 151.3Z" fill="#c28f34" opacity="1"/>
<path d="M367.1 146.1L372.4 148.8L367.1 151.4Z" fill="#c28f34" opacity="1"/>
<path d="M372.4 146.4L377.7 149.1L372.4 151.7Z" fill="#c28f34" opacity="1"/>
<path d="M373.8 145.8L379.1 148.5L373.8 151.1Z" fill="#c28f34" opacity="1"/>
<path d="M377.7 146.0L383.0 148.7L377.7 151.3Z" fill="#c28f34" opacity="1"/>
<path d="M379.1 146.3L384.4 149.0L379.1 151.6Z" fill="#c28f34" opacity="1"/>
<path d="M383.0 145.1L388.3 147.8L383.0 150.4Z" fill="#c28f34" opacity="1"/>
<path d="M388.2 145.6L393.5 148.2L388.2 150.9Z" fill="#c28f34" opacity="1"/>
<path d="M393.5 143.8L398.8 146.5L393.5 149.1Z" fill="#c28f34" opacity="1"/>
<path d="M398.8 144.0L404.1 146.6L398.8 149.3Z" fill="#c28f34" opacity="1"/>
<path d="M404.0 144.1L409.3 146.7L404.0 149.4Z" fill="#c28f34" opacity="1"/>
<path d="M409.3 142.8L414.6 145.4L409.3 148.1Z" fill="#c28f34" opacity="1"/>
<path d="M414.6 142.7L419.9 145.3L414.6 148.0Z" fill="#c28f34" opacity="1"/>
<path d="M419.9 143.2L425.2 145.9L419.9 148.5Z" fill="#c28f34" opacity="1"/>
<path d="M421.3 140.5L426.6 143.2L421.3 145.8Z" fill="#c28f34" opacity="1"/>
<path d="M425.1 140.2L430.4 142.9L425.1 145.5Z" fill="#c28f34" opacity="1"/>
<path d="M430.4 140.4L435.7 143.0L430.4 145.7Z" fill="#c28f34" opacity="1"/>
<path d="M431.8 141.7L437.1 144.3L431.8 147.0Z" fill="#c28f34" opacity="1"/>
<path d="M435.7 140.7L441.0 143.4L435.7 146.0Z" fill="#c28f34" opacity="1"/>
<path d="M437.1 140.3L442.4 143.0L437.1 145.6Z" fill="#c28f34" opacity="1"/>
<path d="M440.9 139.9L446.2 142.5L440.9 145.2Z" fill="#c28f34" opacity="1"/>
<path d="M446.2 139.3L451.5 141.9L446.2 144.6Z" fill="#c28f34" opacity="1"/>
<path d="M447.6 136.9L452.9 139.6L447.6 142.2Z" fill="#c28f34" opacity="1"/>
<path d="M451.5 138.1L456.8 140.8L451.5 143.4Z" fill="#c28f34" opacity="1"/>
<path d="M452.9 136.9L458.2 139.5L452.9 142.2Z" fill="#c28f34" opacity="1"/>
<path d="M456.8 138.8L462.1 141.4L456.8 144.1Z" fill="#c28f34" opacity="1"/>
<path d="M458.2 135.8L463.5 138.5L458.2 141.1Z" fill="#c28f34" opacity="1"/>
<path d="M462.0 137.5L467.3 140.1L462.0 142.8Z" fill="#c28f34" opacity="1"/>
<path d="M467.3 136.0L472.6 138.6L467.3 141.3Z" fill="#c28f34" opacity="1"/>
<path d="M472.6 135.3L477.9 138.0L472.6 140.6Z" fill="#c28f34" opacity="1"/>
<path d="M477.9 133.6L483.2 136.2L477.9 138.9Z" fill="#c28f34" opacity="1"/>
<path d="M483.1 132.4L488.4 135.1L483.1 137.7Z" fill="#c28f34" opacity="1"/>
<path d="M484.5 133.2L489.8 135.8L484.5 138.5Z" fill="#c28f34" opacity="1"/>
<path d="M488.4 131.3L493.7 134.0L488.4 136.6Z" fill="#c28f34" opacity="1"/>
<path d="M493.7 130.0L499.0 132.6L493.7 135.3Z" fill="#c28f34" opacity="1"/>
<path d="M498.9 129.4L504.2 132.1L498.9 134.7Z" fill="#c28f34" opacity="1"/>
<path d="M504.2 127.8L509.5 130.5L504.2 133.1Z" fill="#c28f34" opacity="1"/>
<path d="M509.5 128.2L514.8 130.9L509.5 133.5Z" fill="#c28f34" opacity="1"/>
<path d="M514.8 126.2L520.1 128.8L514.8 131.5Z" fill="#c28f34" opacity="1"/>
<path d="M520.0 124.7L525.3 127.4L520.0 130.0Z" fill="#c28f34" opacity="1"/>
<path d="M521.4 124.8L526.7 127.5L521.4 130.1Z" fill="#c28f34" opacity="1"/>
<path d="M525.3 123.3L530.6 126.0L525.3 128.6Z" fill="#c28f34" opacity="1"/>
<path d="M526.7 122.5L532.0 125.1L526.7 127.8Z" fill="#c28f34" opacity="1"/>
<path d="M530.6 120.9L535.9 123.6L530.6 126.2Z" fill="#c28f34" opacity="1"/>
<path d="M535.8 121.6L541.1 124.2L535.8 126.9Z" fill="#c28f34" opacity="1"/>
<path d="M537.2 122.3L542.5 125.0L537.2 127.6Z" fill="#c28f34" opacity="1"/>
<path d="M541.1 120.9L546.4 123.6L541.1 126.2Z" fill="#c28f34" opacity="1"/>
<path d="M123.3 205.1L125.4 207.7L123.3 210.3L121.2 207.7Z" fill="#26b578"/>
<path d="M125.9 205.0L128.0 207.6L125.9 210.2L123.8 207.6Z" fill="#26b578"/>
<path d="M127.5 206.5L129.6 209.1L127.5 211.7L125.4 209.1Z" fill="#26b578"/>
<path d="M131.8 203.9L133.9 206.5L131.8 209.1L129.7 206.5Z" fill="#26b578"/>
<path d="M135.5 207.2L137.6 209.8L135.5 212.4L133.4 209.8Z" fill="#26b578"/>
<path d="M137.3 209.4L139.4 212.0L137.3 214.6L135.2 212.0Z" fill="#26b578"/>
<path d="M140.2 208.9L142.3 211.5L140.2 214.1L138.1 211.5Z" fill="#26b578"/>
<path d="M144.4 207.3L146.5 209.9L144.4 212.5L142.3 209.9Z" fill="#26b578"/>
<path d="M146.7 215.0L148.8 217.6L146.7 220.2L144.6 217.6Z" fill="#26b578"/>
<path d="M148.5 209.7L150.6 212.3L148.5 214.9L146.4 212.3Z" fill="#26b578"/>
<path d="M150.9 210.6L153.0 213.2L150.9 215.8L148.8 213.2Z" fill="#26b578"/>
<path d="M152.4 210.0L154.5 212.6L152.4 215.2L150.3 212.6Z" fill="#26b578"/>
<path d="M154.3 211.5L156.4 214.1L154.3 216.7L152.2 214.1Z" fill="#26b578"/>
<path d="M157.1 213.5L159.2 216.1L157.1 218.7L155.0 216.1Z" fill="#26b578"/>
<path d="M161.0 210.7L163.1 213.3L161.0 215.9L158.9 213.3Z" fill="#26b578"/>
<path d="M165.5 212.9L167.6 215.5L165.5 218.1L163.4 215.5Z" fill="#26b578"/>
<path d="M169.1 213.3L171.2 215.9L169.1 218.5L167.0 215.9Z" fill="#26b578"/>
<path d="M171.9 214.3L174.0 216.9L171.9 219.5L169.8 216.9Z" fill="#26b578"/>
<path d="M173.2 213.8L175.3 216.4L173.2 219.0L171.1 216.4Z" fill="#26b578"/>
<path d="M175.4 219.1L177.5 221.7L175.4 224.3L173.3 221.7Z" fill="#26b578"/>
<path d="M178.0 214.2L180.1 216.8L178.0 219.4L175.9 216.8Z" fill="#26b578"/>
<path d="M180.0 213.2L182.1 215.8L180.0 218.4L177.9 215.8Z" fill="#26b578"/>
<path d="M181.7 214.5L183.8 217.1L181.7 219.7L179.6 217.1Z" fill="#26b578"/>
<path d="M185.9 217.2L188.0 219.8L185.9 222.4L183.8 219.8Z" fill="#26b578"/>
<path d="M190.4 217.9L192.5 220.5L190.4 223.1L188.3 220.5Z" fill="#26b578"/>
<path d="M195.1 218.4L197.2 221.0L195.1 223.6L193.0 221.0Z" fill="#26b578"/>
<path d="M197.5 219.8L199.6 222.4L197.5 225.0L195.4 222.4Z" fill="#26b578"/>
<path d="M198.6 220.2L200.7 222.8L198.6 225.4L196.5 222.8Z" fill="#26b578"/>
<path d="M203.5 221.2L205.6 223.8L203.5 226.4L201.4 223.8Z" fill="#26b578"/>
<path d="M205.7 224.0L207.8 226.6L205.7 229.2L203.6 226.6Z" fill="#26b578"/>
<path d="M207.5 218.0L209.6 220.6L207.5 223.2L205.4 220.6Z" fill="#26b578"/>
<path d="M210.0 222.1L212.1 224.7L210.0 227.3L207.9 224.7Z" fill="#26b578"/>
<path d="M211.0 221.4L213.1 224.0L211.0 226.6L208.9 224.0Z" fill="#26b578"/>
<path d="M213.5 223.2L215.6 225.8L213.5 228.4L211.4 225.8Z" fill="#26b578"/>
<path d="M215.5 222.2L217.6 224.8L215.5 227.4L213.4 224.8Z" fill="#26b578"/>
<path d="M218.3 225.3L220.4 227.9L218.3 230.5L216.2 227.9Z" fill="#26b578"/>
<path d="M220.2 225.6L222.3 228.2L220.2 230.8L218.1 228.2Z" fill="#26b578"/>
<path d="M222.6 224.8L224.7 227.4L222.6 230.0L220.5 227.4Z" fill="#26b578"/>
<path d="M223.8 223.4L225.9 226.0L223.8 228.6L221.7 226.0Z" fill="#26b578"/>
<path d="M226.0 220.2L228.1 222.8L226.0 225.4L223.9 222.8Z" fill="#26b578"/>
<path d="M228.1 226.8L230.2 229.4L228.1 232.0L226.0 229.4Z" fill="#26b578"/>
<path d="M230.0 226.4L232.1 229.0L230.0 231.6L227.9 229.0Z" fill="#26b578"/>
<path d="M232.8 226.3L234.9 228.9L232.8 231.5L230.7 228.9Z" fill="#26b578"/>
<path d="M235.2 227.6L237.3 230.2L235.2 232.8L233.1 230.2Z" fill="#26b578"/>
<path d="M236.7 226.5L238.8 229.1L236.7 231.7L234.6 229.1Z" fill="#26b578"/>
<path d="M238.5 230.1L240.6 232.7L238.5 235.3L236.4 232.7Z" fill="#26b578"/>
<path d="M241.2 230.1L243.3 232.7L241.2 235.3L239.1 232.7Z" fill="#26b578"/>
<path d="M245.5 227.3L247.6 229.9L245.5 232.5L243.4 229.9Z" fill="#26b578"/>
<path d="M248.8 226.8L250.9 229.4L248.8 232.0L246.7 229.4Z" fill="#26b578"/>
<path d="M253.4 229.1L255.5 231.7L253.4 234.3L251.3 231.7Z" fill="#26b578"/>
<path d="M257.2 229.8L259.3 232.4L257.2 235.0L255.1 232.4Z" fill="#26b578"/>
<path d="M261.5 230.4L263.6 233.0L261.5 235.6L259.4 233.0Z" fill="#26b578"/>
<path d="M264.3 231.6L266.4 234.2L264.3 236.8L262.2 234.2Z" fill="#26b578"/>
<path d="M266.5 233.1L268.6 235.7L266.5 238.3L264.4 235.7Z" fill="#26b578"/>
<path d="M268.2 232.4L270.3 235.0L268.2 237.6L266.1 235.0Z" fill="#26b578"/>
<path d="M270.1 232.0L272.2 234.6L270.1 237.2L268.0 234.6Z" fill="#26b578"/>
<path d="M273.0 235.4L275.1 238.0L273.0 240.6L270.9 238.0Z" fill="#26b578"/>
<path d="M274.4 234.6L276.5 237.2L274.4 239.8L272.3 237.2Z" fill="#26b578"/>
<path d="M276.5 242.5L278.6 245.1L276.5 247.7L274.4 245.1Z" fill="#26b578"/>
<path d="M278.3 231.9L280.4 234.5L278.3 237.1L276.2 234.5Z" fill="#26b578"/>
<path d="M280.1 238.1L282.2 240.7L280.1 243.3L278.0 240.7Z" fill="#26b578"/>
<path d="M282.6 236.1L284.7 238.7L282.6 241.3L280.5 238.7Z" fill="#26b578"/>
<path d="M285.3 231.9L287.4 234.5L285.3 237.1L283.2 234.5Z" fill="#26b578"/>
<path d="M287.0 234.9L289.1 237.5L287.0 240.1L284.9 237.5Z" fill="#26b578"/>
<path d="M288.9 235.2L291.0 237.8L288.9 240.4L286.8 237.8Z" fill="#26b578"/>
<path d="M290.8 236.8L292.9 239.4L290.8 242.0L288.7 239.4Z" fill="#26b578"/>
<path d="M293.4 239.8L295.5 242.4L293.4 245.0L291.3 242.4Z" fill="#26b578"/>
<path d="M295.6 237.5L297.7 240.1L295.6 242.7L293.5 240.1Z" fill="#26b578"/>
<path d="M299.4 239.0L301.5 241.6L299.4 244.2L297.3 241.6Z" fill="#26b578"/>
<path d="M301.7 243.0L303.8 245.6L301.7 248.2L299.6 245.6Z" fill="#26b578"/>
<path d="M304.2 243.9L306.3 246.5L304.2 249.1L302.1 246.5Z" fill="#26b578"/>
<path d="M305.2 238.8L307.3 241.4L305.2 244.0L303.1 241.4Z" fill="#26b578"/>
<path d="M308.0 238.9L310.1 241.5L308.0 244.1L305.9 241.5Z" fill="#26b578"/>
<path d="M311.8 236.1L313.9 238.7L311.8 241.3L309.7 238.7Z" fill="#26b578"/>
<path d="M314.9 248.9L317.0 251.5L314.9 254.1L312.8 251.5Z" fill="#26b578"/>
<path d="M316.9 239.8L319.0 242.4L316.9 245.0L314.8 242.4Z" fill="#26b578"/>
<path d="M318.6 245.0L320.7 247.6L318.6 250.2L316.5 247.6Z" fill="#26b578"/>
<path d="M320.8 243.5L322.9 246.1L320.8 248.7L318.7 246.1Z" fill="#26b578"/>
<path d="M325.1 242.8L327.2 245.4L325.1 248.0L323.0 245.4Z" fill="#26b578"/>
<path d="M327.0 239.5L329.1 242.1L327.0 244.7L324.9 242.1Z" fill="#26b578"/>
<path d="M328.8 247.6L330.9 250.2L328.8 252.8L326.7 250.2Z" fill="#26b578"/>
<path d="M333.4 243.5L335.5 246.1L333.4 248.7L331.3 246.1Z" fill="#26b578"/>
<path d="M335.6 246.0L337.7 248.6L335.6 251.2L333.5 248.6Z" fill="#26b578"/>
<path d="M337.6 242.8L339.7 245.4L337.6 248.0L335.5 245.4Z" fill="#26b578"/>
<path d="M339.7 247.1L341.8 249.7L339.7 252.3L337.6 249.7Z" fill="#26b578"/>
<path d="M341.5 241.7L343.6 244.3L341.5 246.9L339.4 244.3Z" fill="#26b578"/>
<path d="M343.4 241.5L345.5 244.1L343.4 246.7L341.3 244.1Z" fill="#26b578"/>
<path d="M345.8 239.2L347.9 241.8L345.8 244.4L343.7 241.8Z" fill="#26b578"/>
<path d="M350.0 235.3L352.1 237.9L350.0 240.5L347.9 237.9Z" fill="#26b578"/>
<path d="M351.7 233.7L353.8 236.3L351.7 238.9L349.6 236.3Z" fill="#26b578"/>
<path d="M354.1 241.0L356.2 243.6L354.1 246.2L352.0 243.6Z" fill="#26b578"/>
<path d="M356.3 237.4L358.4 240.0L356.3 242.6L354.2 240.0Z" fill="#26b578"/>
<path d="M358.2 235.2L360.3 237.8L358.2 240.4L356.1 237.8Z" fill="#26b578"/>
<path d="M363.1 233.1L365.2 235.7L363.1 238.3L361.0 235.7Z" fill="#26b578"/>
<path d="M364.6 240.2L366.7 242.8L364.6 245.4L362.5 242.8Z" fill="#26b578"/>
<path d="M367.0 234.6L369.1 237.2L367.0 239.8L364.9 237.2Z" fill="#26b578"/>
<path d="M369.0 237.0L371.1 239.6L369.0 242.2L366.9 239.6Z" fill="#26b578"/>
<path d="M370.8 231.1L372.9 233.7L370.8 236.3L368.7 233.7Z" fill="#26b578"/>
<path d="M375.0 231.3L377.1 233.9L375.0 236.5L372.9 233.9Z" fill="#26b578"/>
<path d="M377.8 238.2L379.9 240.8L377.8 243.4L375.7 240.8Z" fill="#26b578"/>
<path d="M379.4 230.3L381.5 232.9L379.4 235.5L377.3 232.9Z" fill="#26b578"/>
<path d="M381.1 238.9L383.2 241.5L381.1 244.1L379.0 241.5Z" fill="#26b578"/>
<path d="M384.1 228.4L386.2 231.0L384.1 233.6L382.0 231.0Z" fill="#26b578"/>
<path d="M385.6 233.6L387.7 236.2L385.6 238.8L383.5 236.2Z" fill="#26b578"/>
<path d="M387.5 230.1L389.6 232.7L387.5 235.3L385.4 232.7Z" fill="#26b578"/>
<path d="M389.2 237.5L391.3 240.1L389.2 242.7L387.1 240.1Z" fill="#26b578"/>
<path d="M392.4 225.8L394.5 228.4L392.4 231.0L390.3 228.4Z" fill="#26b578"/>
<path d="M396.7 229.0L398.8 231.6L396.7 234.2L394.6 231.6Z" fill="#26b578"/>
<path d="M400.9 225.7L403.0 228.3L400.9 230.9L398.8 228.3Z" fill="#26b578"/>
<path d="M404.2 225.9L406.3 228.5L404.2 231.1L402.1 228.5Z" fill="#26b578"/>
<path d="M408.7 223.1L410.8 225.7L408.7 228.3L406.6 225.7Z" fill="#26b578"/>
<path d="M410.2 227.3L412.3 229.9L410.2 232.5L408.1 229.9Z" fill="#26b578"/>
<path d="M413.5 222.8L415.6 225.4L413.5 228.0L411.4 225.4Z" fill="#26b578"/>
<path d="M415.9 226.9L418.0 229.5L415.9 232.1L413.8 229.5Z" fill="#26b578"/>
<path d="M417.6 222.4L419.7 225.0L417.6 227.6L415.5 225.0Z" fill="#26b578"/>
<path d="M421.4 222.3L423.5 224.9L421.4 227.5L419.3 224.9Z" fill="#26b578"/>
<path d="M424.2 220.0L426.3 222.6L424.2 225.2L422.1 222.6Z" fill="#26b578"/>
<path d="M425.3 220.2L427.4 222.8L425.3 225.4L423.2 222.8Z" fill="#26b578"/>
<path d="M427.6 222.0L429.7 224.6L427.6 227.2L425.5 224.6Z" fill="#26b578"/>
<path d="M430.2 218.7L432.3 221.3L430.2 223.9L428.1 221.3Z" fill="#26b578"/>
<path d="M433.6 218.3L435.7 220.9L433.6 223.5L431.5 220.9Z" fill="#26b578"/>
<path d="M438.0 217.0L440.1 219.6L438.0 222.2L435.9 219.6Z" fill="#26b578"/>
<path d="M442.2 216.9L444.3 219.5L442.2 222.1L440.1 219.5Z" fill="#26b578"/>
<path d="M446.8 214.1L448.9 216.7L446.8 219.3L444.7 216.7Z" fill="#26b578"/>
<path d="M448.4 215.9L450.5 218.5L448.4 221.1L446.3 218.5Z" fill="#26b578"/>
<path d="M450.4 212.6L452.5 215.2L450.4 217.8L448.3 215.2Z" fill="#26b578"/>
<path d="M455.5 214.5L457.6 217.1L455.5 219.7L453.4 217.1Z" fill="#26b578"/>
<path d="M456.7 212.5L458.8 215.1L456.7 217.7L454.6 215.1Z" fill="#26b578"/>
<path d="M459.7 208.3L461.8 210.9L459.7 213.5L457.6 210.9Z" fill="#26b578"/>
<path d="M461.0 214.3L463.1 216.9L461.0 219.5L458.9 216.9Z" fill="#26b578"/>
<path d="M463.9 209.3L466.0 211.9L463.9 214.5L461.8 211.9Z" fill="#26b578"/>
<path d="M466.0 213.6L468.1 216.2L466.0 218.8L463.9 216.2Z" fill="#26b578"/>
<path d="M467.9 209.6L470.0 212.2L467.9 214.8L465.8 212.2Z" fill="#26b578"/>
<path d="M471.7 206.1L473.8 208.7L471.7 211.3L469.6 208.7Z" fill="#26b578"/>
<path d="M473.3 207.3L475.4 209.9L473.3 212.5L471.2 209.9Z" fill="#26b578"/>
<path d="M475.7 209.6L477.8 212.2L475.7 214.8L473.6 212.2Z" fill="#26b578"/>
<path d="M479.8 206.7L481.9 209.3L479.8 211.9L477.7 209.3Z" fill="#26b578"/>
<path d="M484.3 206.2L486.4 208.8L484.3 211.4L482.2 208.8Z" fill="#26b578"/>
<path d="M488.4 207.7L490.5 210.3L488.4 212.9L486.3 210.3Z" fill="#26b578"/>
<path d="M490.1 201.0L492.2 203.6L490.1 206.2L488.0 203.6Z" fill="#26b578"/>
<path d="M492.8 201.4L494.9 204.0L492.8 206.6L490.7 204.0Z" fill="#26b578"/>
<path d="M494.8 205.2L496.9 207.8L494.8 210.4L492.7 207.8Z" fill="#26b578"/>
<path d="M497.3 201.1L499.4 203.7L497.3 206.3L495.2 203.7Z" fill="#26b578"/>
<path d="M501.4 200.1L503.5 202.7L501.4 205.3L499.3 202.7Z" fill="#26b578"/>
<path d="M503.5 204.2L505.6 206.8L503.5 209.4L501.4 206.8Z" fill="#26b578"/>
<path d="M505.3 199.6L507.4 202.2L505.3 204.8L503.2 202.2Z" fill="#26b578"/>
<path d="M509.4 199.9L511.5 202.5L509.4 205.1L507.3 202.5Z" fill="#26b578"/>
<path d="M512.4 202.9L514.5 205.5L512.4 208.1L510.3 205.5Z" fill="#26b578"/>
<path d="M513.7 197.4L515.8 200.0L513.7 202.6L511.6 200.0Z" fill="#26b578"/>
<path d="M518.1 196.9L520.2 199.5L518.1 202.1L516.0 199.5Z" fill="#26b578"/>
<path d="M520.9 200.3L523.0 202.9L520.9 205.5L518.8 202.9Z" fill="#26b578"/>
<path d="M521.9 194.6L524.0 197.2L521.9 199.8L519.8 197.2Z" fill="#26b578"/>
<path d="M525.0 200.0L527.1 202.6L525.0 205.2L522.9 202.6Z" fill="#26b578"/>
<path d="M526.0 193.0L528.1 195.6L526.0 198.2L523.9 195.6Z" fill="#26b578"/>
<path d="M529.3 198.2L531.4 200.8L529.3 203.4L527.2 200.8Z" fill="#26b578"/>
<path d="M530.7 195.0L532.8 197.6L530.7 200.2L528.6 197.6Z" fill="#26b578"/>
<path d="M534.8 191.4L536.9 194.0L534.8 196.6L532.7 194.0Z" fill="#26b578"/>
<path d="M537.4 198.6L539.5 201.2L537.4 203.8L535.3 201.2Z" fill="#26b578"/>
<path d="M539.1 193.0L541.2 195.6L539.1 198.2L537.0 195.6Z" fill="#26b578"/>
<polyline points="121.8,208.6 327.4,248 543.5,195.4" fill="none" stroke="#000" stroke-width="1.1"/>
<rect x="121.75" y="10.2" width="421.75" height="259.40000000000003" fill="none" stroke="#000" stroke-width="2.3"/>
<line x1="145.18" y1="269.60" x2="145.18" y2="263.60" stroke="#000" stroke-width="2.3" />
<line x1="145.18" y1="10.20" x2="145.18" y2="16.20" stroke="#000" stroke-width="2.3" />
<line x1="168.61" y1="269.60" x2="168.61" y2="263.60" stroke="#000" stroke-width="2.3" />
<line x1="168.61" y1="10.20" x2="168.61" y2="16.20" stroke="#000" stroke-width="2.3" />
<line x1="192.04" y1="269.60" x2="192.04" y2="263.60" stroke="#000" stroke-width="2.3" />
<line x1="192.04" y1="10.20" x2="192.04" y2="16.20" stroke="#000" stroke-width="2.3" />
<line x1="215.47" y1="269.60" x2="215.47" y2="258.60" stroke="#000" stroke-width="2.3" />
<line x1="215.47" y1="10.20" x2="215.47" y2="21.20" stroke="#000" stroke-width="2.3" />
<line x1="238.90" y1="269.60" x2="238.90" y2="263.60" stroke="#000" stroke-width="2.3" />
<line x1="238.90" y1="10.20" x2="238.90" y2="16.20" stroke="#000" stroke-width="2.3" />
<line x1="262.33" y1="269.60" x2="262.33" y2="263.60" stroke="#000" stroke-width="2.3" />
<line x1="262.33" y1="10.20" x2="262.33" y2="16.20" stroke="#000" stroke-width="2.3" />
<line x1="285.76" y1="269.60" x2="285.76" y2="263.60" stroke="#000" stroke-width="2.3" />
<line x1="285.76" y1="10.20" x2="285.76" y2="16.20" stroke="#000" stroke-width="2.3" />
<line x1="309.19" y1="269.60" x2="309.19" y2="263.60" stroke="#000" stroke-width="2.3" />
<line x1="309.19" y1="10.20" x2="309.19" y2="16.20" stroke="#000" stroke-width="2.3" />
<line x1="332.62" y1="269.60" x2="332.62" y2="258.60" stroke="#000" stroke-width="2.3" />
<line x1="332.62" y1="10.20" x2="332.62" y2="21.20" stroke="#000" stroke-width="2.3" />
<line x1="356.06" y1="269.60" x2="356.06" y2="263.60" stroke="#000" stroke-width="2.3" />
<line x1="356.06" y1="10.20" x2="356.06" y2="16.20" stroke="#000" stroke-width="2.3" />
<line x1="379.49" y1="269.60" x2="379.49" y2="263.60" stroke="#000" stroke-width="2.3" />
<line x1="379.49" y1="10.20" x2="379.49" y2="16.20" stroke="#000" stroke-width="2.3" />
<line x1="402.92" y1="269.60" x2="402.92" y2="263.60" stroke="#000" stroke-width="2.3" />
<line x1="402.92" y1="10.20" x2="402.92" y2="16.20" stroke="#000" stroke-width="2.3" />
<line x1="426.35" y1="269.60" x2="426.35" y2="263.60" stroke="#000" stroke-width="2.3" />
<line x1="426.35" y1="10.20" x2="426.35" y2="16.20" stroke="#000" stroke-width="2.3" />
<line x1="449.78" y1="269.60" x2="449.78" y2="258.60" stroke="#000" stroke-width="2.3" />
<line x1="449.78" y1="10.20" x2="449.78" y2="21.20" stroke="#000" stroke-width="2.3" />
<line x1="473.21" y1="269.60" x2="473.21" y2="263.60" stroke="#000" stroke-width="2.3" />
<line x1="473.21" y1="10.20" x2="473.21" y2="16.20" stroke="#000" stroke-width="2.3" />
<line x1="496.64" y1="269.60" x2="496.64" y2="263.60" stroke="#000" stroke-width="2.3" />
<line x1="496.64" y1="10.20" x2="496.64" y2="16.20" stroke="#000" stroke-width="2.3" />
<line x1="520.07" y1="269.60" x2="520.07" y2="263.60" stroke="#000" stroke-width="2.3" />
<line x1="520.07" y1="10.20" x2="520.07" y2="16.20" stroke="#000" stroke-width="2.3" />
<text x="214.67" y="304.40" font-size="25.3" text-anchor="middle" >-5</text>
<text x="332.62" y="304.40" font-size="25.3" text-anchor="middle" >0</text>
<text x="449.78" y="304.40" font-size="25.3" text-anchor="middle" >5</text>
<line x1="121.75" y1="16.80" x2="127.75" y2="16.80" stroke="#000" stroke-width="2.3" />
<line x1="543.50" y1="16.80" x2="537.50" y2="16.80" stroke="#000" stroke-width="2.3" />
<line x1="121.75" y1="28.30" x2="132.75" y2="28.30" stroke="#000" stroke-width="2.3" />
<line x1="543.50" y1="28.30" x2="532.50" y2="28.30" stroke="#000" stroke-width="2.3" />
<line x1="121.75" y1="40.30" x2="127.75" y2="40.30" stroke="#000" stroke-width="2.3" />
<line x1="543.50" y1="40.30" x2="537.50" y2="40.30" stroke="#000" stroke-width="2.3" />
<line x1="121.75" y1="52.00" x2="132.75" y2="52.00" stroke="#000" stroke-width="2.3" />
<line x1="543.50" y1="52.00" x2="532.50" y2="52.00" stroke="#000" stroke-width="2.3" />
<line x1="121.75" y1="64.00" x2="127.75" y2="64.00" stroke="#000" stroke-width="2.3" />
<line x1="543.50" y1="64.00" x2="537.50" y2="64.00" stroke="#000" stroke-width="2.3" />
<line x1="121.75" y1="76.00" x2="132.75" y2="76.00" stroke="#000" stroke-width="2.3" />
<line x1="543.50" y1="76.00" x2="532.50" y2="76.00" stroke="#000" stroke-width="2.3" />
<line x1="121.75" y1="87.50" x2="127.75" y2="87.50" stroke="#000" stroke-width="2.3" />
<line x1="543.50" y1="87.50" x2="537.50" y2="87.50" stroke="#000" stroke-width="2.3" />
<line x1="121.75" y1="118.60" x2="132.75" y2="118.60" stroke="#000" stroke-width="2.3" />
<line x1="543.50" y1="118.60" x2="532.50" y2="118.60" stroke="#000" stroke-width="2.3" />
<line x1="121.75" y1="139.60" x2="127.75" y2="139.60" stroke="#000" stroke-width="2.3" />
<line x1="543.50" y1="139.60" x2="537.50" y2="139.60" stroke="#000" stroke-width="2.3" />
<line x1="121.75" y1="160.20" x2="132.75" y2="160.20" stroke="#000" stroke-width="2.3" />
<line x1="543.50" y1="160.20" x2="532.50" y2="160.20" stroke="#000" stroke-width="2.3" />
<line x1="121.75" y1="206.40" x2="132.75" y2="206.40" stroke="#000" stroke-width="2.3" />
<line x1="543.50" y1="206.40" x2="532.50" y2="206.40" stroke="#000" stroke-width="2.3" />
<line x1="121.75" y1="227.70" x2="127.75" y2="227.70" stroke="#000" stroke-width="2.3" />
<line x1="543.50" y1="227.70" x2="537.50" y2="227.70" stroke="#000" stroke-width="2.3" />
<line x1="121.75" y1="249.20" x2="132.75" y2="249.20" stroke="#000" stroke-width="2.3" />
<line x1="543.50" y1="249.20" x2="532.50" y2="249.20" stroke="#000" stroke-width="2.3" />
<text x="109.00" y="35.85" font-size="25.3" text-anchor="end" >100.0</text>
<text x="109.00" y="59.60" font-size="25.3" text-anchor="end" >99.5</text>
<text x="109.00" y="82.90" font-size="25.3" text-anchor="end" >99.0</text>
<text x="109.00" y="127.85" font-size="25.3" text-anchor="end" >4.4</text>
<text x="109.00" y="168.75" font-size="25.3" text-anchor="end" >4.3</text>
<text x="109.00" y="214.85" font-size="25.3" text-anchor="end" >0.8</text>
<text x="109.00" y="256.65" font-size="25.3" text-anchor="end" >0.7</text>
<rect x="109.75" y="93.6" width="24" height="6.4" fill="#fff" transform="rotate(-10.5 121.75 96.8)"/>
<line x1="109.75" y1="94.50" x2="133.75" y2="94.50" stroke="#000" stroke-width="2.0" transform="rotate(-10.5 121.75 96.8)"/>
<line x1="109.75" y1="99.10" x2="133.75" y2="99.10" stroke="#000" stroke-width="2.0" transform="rotate(-10.5 121.75 96.8)"/>
<rect x="531.5" y="93.6" width="24" height="6.4" fill="#fff" transform="rotate(-10.5 543.5 96.8)"/>
<line x1="531.50" y1="94.50" x2="555.50" y2="94.50" stroke="#000" stroke-width="2.0" transform="rotate(-10.5 543.5 96.8)"/>
<line x1="531.50" y1="99.10" x2="555.50" y2="99.10" stroke="#000" stroke-width="2.0" transform="rotate(-10.5 543.5 96.8)"/>
<rect x="109.75" y="180.0" width="24" height="6.4" fill="#fff" transform="rotate(-10.5 121.75 183.2)"/>
<line x1="109.75" y1="180.90" x2="133.75" y2="180.90" stroke="#000" stroke-width="2.0" transform="rotate(-10.5 121.75 183.2)"/>
<line x1="109.75" y1="185.50" x2="133.75" y2="185.50" stroke="#000" stroke-width="2.0" transform="rotate(-10.5 121.75 183.2)"/>
<rect x="531.5" y="180.0" width="24" height="6.4" fill="#fff" transform="rotate(-10.5 543.5 183.2)"/>
<line x1="531.50" y1="180.90" x2="555.50" y2="180.90" stroke="#000" stroke-width="2.0" transform="rotate(-10.5 543.5 183.2)"/>
<line x1="531.50" y1="185.50" x2="555.50" y2="185.50" stroke="#000" stroke-width="2.0" transform="rotate(-10.5 543.5 183.2)"/>
<text x="146.00" y="78.00" font-size="21" text-anchor="start" >300 K</text>
<text x="140.50" y="167.50" font-size="21" text-anchor="start" >100 K</text>
<text x="139.60" y="250.40" font-size="21" text-anchor="start" >20 K</text>
<text x="20.80" y="24.30" font-size="31" text-anchor="start" font-weight="bold">(a)</text>
<text x="292.20" y="349.60" font-size="31" text-anchor="start" >B [ T ]</text>
<text transform="translate(25.5,218) rotate(-90)" font-size="31" letter-spacing="0.3"><tspan font-style="italic">R</tspan><tspan font-size="22.5" dy="9">xx</tspan><tspan dy="-9"> [ Ω/sq ]</tspan></text>
<defs><clipPath id="cb"><rect x="123.0" y="382.7" width="421.6" height="259.8"/></clipPath><clipPath id="cc"><rect x="124.0" y="773.0" width="420.6" height="260.0"/></clipPath></defs>
<line x1="123.00" y1="609.60" x2="544.60" y2="609.60" stroke="#000" stroke-width="2.3" />
<g clip-path="url(#cb)">
<rect x="117.3" y="565.0" width="11.4" height="11.4" fill="none" stroke="#b82a40" stroke-width="1.7"/>
<rect x="132.9" y="430.9" width="11.4" height="11.4" fill="none" stroke="#b82a40" stroke-width="1.7"/>
<rect x="148.5" y="422.6" width="11.4" height="11.4" fill="none" stroke="#b82a40" stroke-width="1.7"/>
<rect x="164.1" y="442.2" width="11.4" height="11.4" fill="none" stroke="#b82a40" stroke-width="1.7"/>
<rect x="179.8" y="463.9" width="11.4" height="11.4" fill="none" stroke="#b82a40" stroke-width="1.7"/>
<rect x="195.4" y="477.0" width="11.4" height="11.4" fill="none" stroke="#b82a40" stroke-width="1.7"/>
<rect x="211.0" y="495.0" width="11.4" height="11.4" fill="none" stroke="#b82a40" stroke-width="1.7"/>
<rect x="226.6" y="511.3" width="11.4" height="11.4" fill="none" stroke="#b82a40" stroke-width="1.7"/>
<rect x="242.2" y="530.7" width="11.4" height="11.4" fill="none" stroke="#b82a40" stroke-width="1.7"/>
<rect x="257.8" y="543.1" width="11.4" height="11.4" fill="none" stroke="#b82a40" stroke-width="1.7"/>
<rect x="304.7" y="580.5" width="11.4" height="11.4" fill="none" stroke="#b82a40" stroke-width="1.7"/>
<rect x="351.5" y="584.3" width="11.4" height="11.4" fill="none" stroke="#b82a40" stroke-width="1.7"/>
<rect x="398.4" y="603.7" width="11.4" height="11.4" fill="none" stroke="#b82a40" stroke-width="1.7"/>
<rect x="445.2" y="603.7" width="11.4" height="11.4" fill="none" stroke="#b82a40" stroke-width="1.7"/>
<rect x="492.1" y="594.8" width="11.4" height="11.4" fill="none" stroke="#b82a40" stroke-width="1.7"/>
<rect x="538.9" y="603.7" width="11.4" height="11.4" fill="none" stroke="#b82a40" stroke-width="1.7"/>
<circle cx="123.0" cy="469.6" r="6.8" fill="#476bb9"/>
<circle cx="138.6" cy="524.7" r="6.8" fill="#476bb9"/>
<circle cx="154.2" cy="556.7" r="6.8" fill="#476bb9"/>
<circle cx="169.8" cy="577.4" r="6.8" fill="#476bb9"/>
<circle cx="185.5" cy="592.6" r="6.8" fill="#476bb9"/>
<circle cx="201.1" cy="602.5" r="6.8" fill="#476bb9"/>
<circle cx="216.7" cy="606.7" r="6.8" fill="#476bb9"/>
<circle cx="232.3" cy="609.2" r="6.8" fill="#476bb9"/>
<circle cx="247.9" cy="608.8" r="6.8" fill="#476bb9"/>
<circle cx="263.5" cy="609.2" r="6.8" fill="#476bb9"/>
<circle cx="310.4" cy="608.8" r="6.8" fill="#476bb9"/>
<circle cx="357.2" cy="609.2" r="6.8" fill="#476bb9"/>
<circle cx="404.1" cy="609.2" r="6.8" fill="#476bb9"/>
<circle cx="450.9" cy="609.2" r="6.8" fill="#476bb9"/>
<circle cx="497.8" cy="609.2" r="6.8" fill="#476bb9"/>
<circle cx="544.6" cy="609.2" r="6.8" fill="#476bb9"/>
</g>
<rect x="123.0" y="382.7" width="421.6" height="259.8" fill="none" stroke="#000" stroke-width="2.3"/>
<rect x="316.5" y="406.8" width="150.3" height="55.5" fill="#fff" stroke="#000" stroke-width="1.3"/>
<circle cx="338" cy="418.4" r="6.8" fill="#476bb9"/>
<rect x="332.3" y="439.8" width="11.4" height="11.4" fill="none" stroke="#b82a40" stroke-width="1.7"/>
<text x="358.2" y="423.5" font-size="17.6"><tspan font-style="italic">c</tspan><tspan font-size="11.5" dy="4.5">1</tspan><tspan dy="-4.5"> (linear)</tspan></text>
<text x="358.2" y="451.1" font-size="17.6"><tspan font-style="italic">c</tspan><tspan font-size="11.5" dy="4.5">2</tspan><tspan dy="-4.5"> (quadratic)</tspan></text>
<line x1="154.23" y1="642.50" x2="154.23" y2="630.50" stroke="#000" stroke-width="2.3" />
<line x1="154.23" y1="382.70" x2="154.23" y2="394.70" stroke="#000" stroke-width="2.3" />
<line x1="193.27" y1="642.50" x2="193.27" y2="635.50" stroke="#000" stroke-width="2.3" />
<line x1="193.27" y1="382.70" x2="193.27" y2="389.70" stroke="#000" stroke-width="2.3" />
<line x1="232.30" y1="642.50" x2="232.30" y2="630.50" stroke="#000" stroke-width="2.3" />
<line x1="232.30" y1="382.70" x2="232.30" y2="394.70" stroke="#000" stroke-width="2.3" />
<line x1="271.34" y1="642.50" x2="271.34" y2="635.50" stroke="#000" stroke-width="2.3" />
<line x1="271.34" y1="382.70" x2="271.34" y2="389.70" stroke="#000" stroke-width="2.3" />
<line x1="310.38" y1="642.50" x2="310.38" y2="630.50" stroke="#000" stroke-width="2.3" />
<line x1="310.38" y1="382.70" x2="310.38" y2="394.70" stroke="#000" stroke-width="2.3" />
<line x1="349.41" y1="642.50" x2="349.41" y2="635.50" stroke="#000" stroke-width="2.3" />
<line x1="349.41" y1="382.70" x2="349.41" y2="389.70" stroke="#000" stroke-width="2.3" />
<line x1="388.45" y1="642.50" x2="388.45" y2="630.50" stroke="#000" stroke-width="2.3" />
<line x1="388.45" y1="382.70" x2="388.45" y2="394.70" stroke="#000" stroke-width="2.3" />
<line x1="427.49" y1="642.50" x2="427.49" y2="635.50" stroke="#000" stroke-width="2.3" />
<line x1="427.49" y1="382.70" x2="427.49" y2="389.70" stroke="#000" stroke-width="2.3" />
<line x1="466.53" y1="642.50" x2="466.53" y2="630.50" stroke="#000" stroke-width="2.3" />
<line x1="466.53" y1="382.70" x2="466.53" y2="394.70" stroke="#000" stroke-width="2.3" />
<line x1="505.56" y1="642.50" x2="505.56" y2="635.50" stroke="#000" stroke-width="2.3" />
<line x1="505.56" y1="382.70" x2="505.56" y2="389.70" stroke="#000" stroke-width="2.3" />
<text x="154.23" y="672.40" font-size="25.3" text-anchor="middle" >50</text>
<text x="232.30" y="672.40" font-size="25.3" text-anchor="middle" >100</text>
<text x="310.38" y="672.40" font-size="25.3" text-anchor="middle" >150</text>
<text x="388.45" y="672.40" font-size="25.3" text-anchor="middle" >200</text>
<text x="466.53" y="672.40" font-size="25.3" text-anchor="middle" >250</text>
<text x="544.60" y="672.40" font-size="25.3" text-anchor="middle" >300</text>
<line x1="123.00" y1="609.60" x2="135.00" y2="609.60" stroke="#000" stroke-width="2.3" />
<line x1="544.60" y1="609.60" x2="532.60" y2="609.60" stroke="#000" stroke-width="2.3" />
<line x1="123.00" y1="577.25" x2="130.00" y2="577.25" stroke="#000" stroke-width="2.3" />
<line x1="544.60" y1="577.25" x2="537.60" y2="577.25" stroke="#000" stroke-width="2.3" />
<line x1="123.00" y1="544.90" x2="135.00" y2="544.90" stroke="#000" stroke-width="2.3" />
<line x1="544.60" y1="544.90" x2="532.60" y2="544.90" stroke="#000" stroke-width="2.3" />
<line x1="123.00" y1="512.55" x2="130.00" y2="512.55" stroke="#000" stroke-width="2.3" />
<line x1="544.60" y1="512.55" x2="537.60" y2="512.55" stroke="#000" stroke-width="2.3" />
<line x1="123.00" y1="480.20" x2="135.00" y2="480.20" stroke="#000" stroke-width="2.3" />
<line x1="544.60" y1="480.20" x2="532.60" y2="480.20" stroke="#000" stroke-width="2.3" />
<line x1="123.00" y1="447.85" x2="130.00" y2="447.85" stroke="#000" stroke-width="2.3" />
<line x1="544.60" y1="447.85" x2="537.60" y2="447.85" stroke="#000" stroke-width="2.3" />
<line x1="123.00" y1="415.50" x2="135.00" y2="415.50" stroke="#000" stroke-width="2.3" />
<line x1="544.60" y1="415.50" x2="532.60" y2="415.50" stroke="#000" stroke-width="2.3" />
<text x="109.50" y="615.40" font-size="25.3" text-anchor="end" >0.00</text>
<text x="109.50" y="550.90" font-size="25.3" text-anchor="end" >0.01</text>
<text x="109.50" y="486.40" font-size="25.3" text-anchor="end" >0.02</text>
<text x="109.50" y="421.90" font-size="25.3" text-anchor="end" >0.03</text>
<text x="20.80" y="363.60" font-size="31" text-anchor="start" font-weight="bold">(b)</text>
<text x="292.50" y="719.60" font-size="31" text-anchor="start" >T [ K ]</text>
<text transform="translate(49.6,650.5) rotate(-90)" font-size="30.3" letter-spacing="0.2">MR Coefficient [ T<tspan font-size="17" dy="-15" letter-spacing="-1.2">-1</tspan><tspan dy="15" dx="4" letter-spacing="0.2"> ]</tspan></text>
<g clip-path="url(#cc)">
<rect x="119.5" y="836.8" width="10.4" height="10.4" fill="#000"/>
<rect x="127.3" y="847.1" width="10.4" height="10.4" fill="#000"/>
<rect x="134.5" y="858.5" width="10.4" height="10.4" fill="#000"/>
<rect x="142.3" y="871.2" width="10.4" height="10.4" fill="#000"/>
<rect x="149.9" y="886.4" width="10.4" height="10.4" fill="#000"/>
<rect x="158.0" y="903.8" width="10.4" height="10.4" fill="#000"/>
<rect x="165.5" y="926.1" width="10.4" height="10.4" fill="#000"/>
<rect x="173.6" y="957.0" width="10.4" height="10.4" fill="#000"/>
<rect x="181.4" y="992.5" width="10.4" height="10.4" fill="#000"/>
<rect x="189.3" y="1007.1" width="10.4" height="10.4" fill="#000"/>
<rect x="197.2" y="1012.8" width="10.4" height="10.4" fill="#000"/>
<rect x="198.8" y="1013.4" width="10.4" height="10.4" fill="#000"/>
<rect x="200.3" y="1013.9" width="10.4" height="10.4" fill="#000"/>
<rect x="201.9" y="1014.4" width="10.4" height="10.4" fill="#000"/>
<rect x="203.4" y="1014.8" width="10.4" height="10.4" fill="#000"/>
<rect x="205.0" y="1015.3" width="10.4" height="10.4" fill="#000"/>
<rect x="206.6" y="1015.6" width="10.4" height="10.4" fill="#000"/>
<rect x="208.1" y="1016.0" width="10.4" height="10.4" fill="#000"/>
<rect x="209.7" y="1016.3" width="10.4" height="10.4" fill="#000"/>
<rect x="211.2" y="1016.7" width="10.4" height="10.4" fill="#000"/>
<rect x="212.8" y="1016.9" width="10.4" height="10.4" fill="#000"/>
<rect x="214.4" y="1017.2" width="10.4" height="10.4" fill="#000"/>
<rect x="215.9" y="1017.5" width="10.4" height="10.4" fill="#000"/>
<rect x="217.5" y="1017.7" width="10.4" height="10.4" fill="#000"/>
<rect x="219.0" y="1017.9" width="10.4" height="10.4" fill="#000"/>
<rect x="220.6" y="1018.1" width="10.4" height="10.4" fill="#000"/>
<rect x="222.2" y="1018.3" width="10.4" height="10.4" fill="#000"/>
<rect x="223.7" y="1018.5" width="10.4" height="10.4" fill="#000"/>
<rect x="225.3" y="1018.6" width="10.4" height="10.4" fill="#000"/>
<rect x="226.8" y="1018.8" width="10.4" height="10.4" fill="#000"/>
<rect x="228.4" y="1018.9" width="10.4" height="10.4" fill="#000"/>
<rect x="230.0" y="1019.0" width="10.4" height="10.4" fill="#000"/>
<rect x="231.5" y="1019.2" width="10.4" height="10.4" fill="#000"/>
<rect x="233.1" y="1019.3" width="10.4" height="10.4" fill="#000"/>
<rect x="234.6" y="1019.4" width="10.4" height="10.4" fill="#000"/>
<rect x="236.2" y="1019.5" width="10.4" height="10.4" fill="#000"/>
<rect x="237.8" y="1019.6" width="10.4" height="10.4" fill="#000"/>
<rect x="239.3" y="1019.6" width="10.4" height="10.4" fill="#000"/>
<rect x="240.9" y="1019.7" width="10.4" height="10.4" fill="#000"/>
<rect x="242.4" y="1019.8" width="10.4" height="10.4" fill="#000"/>
<rect x="244.0" y="1019.8" width="10.4" height="10.4" fill="#000"/>
<rect x="245.6" y="1019.9" width="10.4" height="10.4" fill="#000"/>
<rect x="247.1" y="1020.0" width="10.4" height="10.4" fill="#000"/>
<rect x="248.7" y="1020.0" width="10.4" height="10.4" fill="#000"/>
<rect x="250.2" y="1020.1" width="10.4" height="10.4" fill="#000"/>
<rect x="251.8" y="1020.1" width="10.4" height="10.4" fill="#000"/>
<rect x="253.4" y="1020.2" width="10.4" height="10.4" fill="#000"/>
<rect x="254.9" y="1020.2" width="10.4" height="10.4" fill="#000"/>
<rect x="256.5" y="1020.2" width="10.4" height="10.4" fill="#000"/>
<rect x="258.0" y="1020.3" width="10.4" height="10.4" fill="#000"/>
<rect x="259.6" y="1020.3" width="10.4" height="10.4" fill="#000"/>
<rect x="261.2" y="1020.3" width="10.4" height="10.4" fill="#000"/>
<rect x="262.7" y="1020.4" width="10.4" height="10.4" fill="#000"/>
<rect x="264.3" y="1020.4" width="10.4" height="10.4" fill="#000"/>
<rect x="265.8" y="1020.4" width="10.4" height="10.4" fill="#000"/>
<rect x="267.4" y="1020.4" width="10.4" height="10.4" fill="#000"/>
<rect x="269.0" y="1020.4" width="10.4" height="10.4" fill="#000"/>
<rect x="270.5" y="1020.5" width="10.4" height="10.4" fill="#000"/>
<rect x="272.1" y="1020.5" width="10.4" height="10.4" fill="#000"/>
<rect x="273.6" y="1020.5" width="10.4" height="10.4" fill="#000"/>
<rect x="275.2" y="1020.5" width="10.4" height="10.4" fill="#000"/>
<rect x="276.8" y="1020.5" width="10.4" height="10.4" fill="#000"/>
<rect x="278.3" y="1020.5" width="10.4" height="10.4" fill="#000"/>
<rect x="279.9" y="1020.5" width="10.4" height="10.4" fill="#000"/>
<rect x="281.4" y="1020.6" width="10.4" height="10.4" fill="#000"/>
<rect x="283.0" y="1020.6" width="10.4" height="10.4" fill="#000"/>
<rect x="284.6" y="1020.6" width="10.4" height="10.4" fill="#000"/>
<rect x="286.1" y="1020.6" width="10.4" height="10.4" fill="#000"/>
<rect x="287.7" y="1020.6" width="10.4" height="10.4" fill="#000"/>
<rect x="289.2" y="1020.6" width="10.4" height="10.4" fill="#000"/>
<rect x="290.8" y="1020.6" width="10.4" height="10.4" fill="#000"/>
<rect x="292.4" y="1020.6" width="10.4" height="10.4" fill="#000"/>
<rect x="293.9" y="1020.6" width="10.4" height="10.4" fill="#000"/>
<rect x="295.5" y="1020.6" width="10.4" height="10.4" fill="#000"/>
<rect x="297.0" y="1020.6" width="10.4" height="10.4" fill="#000"/>
<rect x="298.6" y="1020.6" width="10.4" height="10.4" fill="#000"/>
<rect x="300.2" y="1020.6" width="10.4" height="10.4" fill="#000"/>
<rect x="301.7" y="1020.6" width="10.4" height="10.4" fill="#000"/>
<rect x="303.3" y="1020.6" width="10.4" height="10.4" fill="#000"/>
<rect x="304.8" y="1020.7" width="10.4" height="10.4" fill="#000"/>
<rect x="306.4" y="1020.7" width="10.4" height="10.4" fill="#000"/>
<rect x="308.0" y="1020.7" width="10.4" height="10.4" fill="#000"/>
<rect x="309.5" y="1020.7" width="10.4" height="10.4" fill="#000"/>
<rect x="311.1" y="1020.7" width="10.4" height="10.4" fill="#000"/>
<rect x="312.6" y="1020.7" width="10.4" height="10.4" fill="#000"/>
<rect x="314.2" y="1020.7" width="10.4" height="10.4" fill="#000"/>
<rect x="315.8" y="1020.7" width="10.4" height="10.4" fill="#000"/>
<rect x="317.3" y="1020.7" width="10.4" height="10.4" fill="#000"/>
<rect x="318.9" y="1020.7" width="10.4" height="10.4" fill="#000"/>
<rect x="320.4" y="1020.7" width="10.4" height="10.4" fill="#000"/>
<rect x="322.0" y="1020.7" width="10.4" height="10.4" fill="#000"/>
<rect x="323.6" y="1020.7" width="10.4" height="10.4" fill="#000"/>
<rect x="325.1" y="1020.7" width="10.4" height="10.4" fill="#000"/>
<rect x="326.7" y="1020.7" width="10.4" height="10.4" fill="#000"/>
<rect x="328.2" y="1020.7" width="10.4" height="10.4" fill="#000"/>
<rect x="329.8" y="1020.7" width="10.4" height="10.4" fill="#000"/>
<rect x="331.4" y="1020.7" width="10.4" height="10.4" fill="#000"/>
<rect x="332.9" y="1020.7" width="10.4" height="10.4" fill="#000"/>
<rect x="334.5" y="1020.7" width="10.4" height="10.4" fill="#000"/>
<rect x="336.0" y="1020.7" width="10.4" height="10.4" fill="#000"/>
<rect x="337.6" y="1020.7" width="10.4" height="10.4" fill="#000"/>
<rect x="339.2" y="1020.7" width="10.4" height="10.4" fill="#000"/>
<rect x="340.7" y="1020.7" width="10.4" height="10.4" fill="#000"/>
<rect x="342.3" y="1020.7" width="10.4" height="10.4" fill="#000"/>
<rect x="343.8" y="1020.7" width="10.4" height="10.4" fill="#000"/>
<rect x="345.4" y="1020.7" width="10.4" height="10.4" fill="#000"/>
<rect x="347.0" y="1020.7" width="10.4" height="10.4" fill="#000"/>
<rect x="348.5" y="1020.7" width="10.4" height="10.4" fill="#000"/>
<rect x="350.1" y="1020.7" width="10.4" height="10.4" fill="#000"/>
<rect x="351.6" y="1020.7" width="10.4" height="10.4" fill="#000"/>
<rect x="353.2" y="1020.7" width="10.4" height="10.4" fill="#000"/>
<rect x="354.8" y="1020.7" width="10.4" height="10.4" fill="#000"/>
<rect x="356.3" y="1020.7" width="10.4" height="10.4" fill="#000"/>
<rect x="357.9" y="1020.7" width="10.4" height="10.4" fill="#000"/>
<rect x="359.4" y="1020.7" width="10.4" height="10.4" fill="#000"/>
<rect x="361.0" y="1020.7" width="10.4" height="10.4" fill="#000"/>
<rect x="362.6" y="1020.7" width="10.4" height="10.4" fill="#000"/>
<rect x="364.1" y="1020.7" width="10.4" height="10.4" fill="#000"/>
<rect x="365.7" y="1020.7" width="10.4" height="10.4" fill="#000"/>
<rect x="367.2" y="1020.7" width="10.4" height="10.4" fill="#000"/>
<rect x="368.8" y="1020.7" width="10.4" height="10.4" fill="#000"/>
<rect x="370.4" y="1020.7" width="10.4" height="10.4" fill="#000"/>
<rect x="371.9" y="1020.7" width="10.4" height="10.4" fill="#000"/>
<rect x="373.5" y="1020.7" width="10.4" height="10.4" fill="#000"/>
<rect x="375.0" y="1020.7" width="10.4" height="10.4" fill="#000"/>
<rect x="376.6" y="1020.7" width="10.4" height="10.4" fill="#000"/>
<rect x="378.2" y="1020.7" width="10.4" height="10.4" fill="#000"/>
<rect x="379.7" y="1020.7" width="10.4" height="10.4" fill="#000"/>
<rect x="381.3" y="1020.7" width="10.4" height="10.4" fill="#000"/>
<rect x="382.8" y="1020.7" width="10.4" height="10.4" fill="#000"/>
<rect x="384.4" y="1020.7" width="10.4" height="10.4" fill="#000"/>
</g>
<rect x="124.0" y="773.0" width="420.6" height="260.0" fill="none" stroke="#000" stroke-width="2.3"/>
<rect x="335.5" y="824.6" width="124.5" height="77.79999999999995" fill="#fff" stroke="#000" stroke-width="1.4"/>
<line x1="344.88" y1="902.40" x2="344.88" y2="898.90" stroke="#000" stroke-width="1.1" />
<line x1="344.88" y1="824.60" x2="344.88" y2="828.10" stroke="#000" stroke-width="1.1" />
<line x1="362.55" y1="902.40" x2="362.55" y2="898.90" stroke="#000" stroke-width="1.1" />
<line x1="362.55" y1="824.60" x2="362.55" y2="828.10" stroke="#000" stroke-width="1.1" />
<line x1="380.22" y1="902.40" x2="380.22" y2="898.90" stroke="#000" stroke-width="1.1" />
<line x1="380.22" y1="824.60" x2="380.22" y2="828.10" stroke="#000" stroke-width="1.1" />
<line x1="397.90" y1="902.40" x2="397.90" y2="898.90" stroke="#000" stroke-width="1.1" />
<line x1="397.90" y1="824.60" x2="397.90" y2="828.10" stroke="#000" stroke-width="1.1" />
<line x1="415.57" y1="902.40" x2="415.57" y2="898.90" stroke="#000" stroke-width="1.1" />
<line x1="415.57" y1="824.60" x2="415.57" y2="828.10" stroke="#000" stroke-width="1.1" />
<line x1="433.25" y1="902.40" x2="433.25" y2="898.90" stroke="#000" stroke-width="1.1" />
<line x1="433.25" y1="824.60" x2="433.25" y2="828.10" stroke="#000" stroke-width="1.1" />
<line x1="450.92" y1="902.40" x2="450.92" y2="898.90" stroke="#000" stroke-width="1.1" />
<line x1="450.92" y1="824.60" x2="450.92" y2="828.10" stroke="#000" stroke-width="1.1" />
<line x1="335.50" y1="888.98" x2="339.00" y2="888.98" stroke="#000" stroke-width="1.1" />
<line x1="460.00" y1="888.98" x2="456.50" y2="888.98" stroke="#000" stroke-width="1.1" />
<line x1="335.50" y1="863.60" x2="339.00" y2="863.60" stroke="#000" stroke-width="1.1" />
<line x1="460.00" y1="863.60" x2="456.50" y2="863.60" stroke="#000" stroke-width="1.1" />
<line x1="335.50" y1="838.22" x2="339.00" y2="838.22" stroke="#000" stroke-width="1.1" />
<line x1="460.00" y1="838.22" x2="456.50" y2="838.22" stroke="#000" stroke-width="1.1" />
<text x="331.00" y="841.85" font-size="13" text-anchor="end" >6</text>
<text x="331.00" y="867.95" font-size="13" text-anchor="end" >0</text>
<text x="331.00" y="893.65" font-size="13" text-anchor="end" >-6</text>
<text x="361.05" y="916.60" font-size="13.5" text-anchor="middle" >-0.05</text>
<text x="397.90" y="916.60" font-size="13.5" text-anchor="middle" >0.00</text>
<text x="433.25" y="916.60" font-size="13.5" text-anchor="middle" >0.05</text>
<text x="397.80" y="940.20" font-size="16.5" text-anchor="middle" letter-spacing="0.4">Field [ T ]</text>
<text transform="translate(309.8,915.5) rotate(-90)" font-size="16.5"><tspan font-style="italic">M</tspan><tspan> [ μ</tspan><tspan font-size="10" dy="3">B</tspan><tspan dy="-3"> per Eu ]</tspan></text>
<polyline points="460.0,841.6 440.0,842.0 420.0,842.5 405.0,842.8 399.0,843.1 394.0,845.0 391.3,847.1 388.0,851.5 384.7,858.1 379.2,871.4 375.5,877.5 373.6,880.2 368.1,884.2 362.0,885.8 357.0,886.4 345.0,887.0 335.5,887.3" fill="none" stroke="#4268b4" stroke-width="2" stroke-linejoin="round"/>
<polyline points="335.5,887.3 360.0,887.2 385.8,886.8 399.0,883.5 404.6,879.1 407.9,871.4 413.4,858.1 418.9,849.3 425.5,844.4 436.6,842.7 460.0,841.6" fill="none" stroke="#4268b4" stroke-width="2" stroke-linejoin="round"/>
<rect x="388.4" y="845.4" width="4.2" height="4.2" fill="#4268b4"/>
<rect x="399.9" y="881.9" width="4.2" height="4.2" fill="#4268b4"/>
<rect x="401.9" y="878.9" width="4.2" height="4.2" fill="#4268b4"/>
<rect x="337.9" y="885.4" width="4.2" height="4.2" fill="#4268b4"/>
<rect x="343.9" y="884.4" width="4.2" height="4.2" fill="#4268b4"/>
<rect x="349.9" y="885.7" width="4.2" height="4.2" fill="#4268b4"/>
<rect x="354.9" y="884.9" width="4.2" height="4.2" fill="#4268b4"/>
<rect x="359.9" y="883.9" width="4.2" height="4.2" fill="#4268b4"/>
<rect x="364.9" y="884.4" width="4.2" height="4.2" fill="#4268b4"/>
<rect x="369.9" y="883.4" width="4.2" height="4.2" fill="#4268b4"/>
<rect x="376.9" y="882.4" width="4.2" height="4.2" fill="#4268b4"/>
<rect x="378.9" y="879.9" width="4.2" height="4.2" fill="#4268b4"/>
<rect x="383.9" y="881.9" width="4.2" height="4.2" fill="#4268b4"/>
<rect x="387.9" y="881.4" width="4.2" height="4.2" fill="#4268b4"/>
<rect x="392.9" y="881.9" width="4.2" height="4.2" fill="#4268b4"/>
<rect x="396.9" y="880.4" width="4.2" height="4.2" fill="#4268b4"/>
<rect x="389.9" y="843.9" width="4.2" height="4.2" fill="#4268b4"/>
<rect x="391.9" y="841.4" width="4.2" height="4.2" fill="#4268b4"/>
<rect x="394.9" y="841.9" width="4.2" height="4.2" fill="#4268b4"/>
<rect x="397.9" y="840.9" width="4.2" height="4.2" fill="#4268b4"/>
<rect x="407.9" y="839.4" width="4.2" height="4.2" fill="#4268b4"/>
<rect x="411.9" y="840.9" width="4.2" height="4.2" fill="#4268b4"/>
<rect x="422.9" y="839.9" width="4.2" height="4.2" fill="#4268b4"/>
<rect x="429.9" y="839.4" width="4.2" height="4.2" fill="#4268b4"/>
<rect x="440.9" y="840.4" width="4.2" height="4.2" fill="#4268b4"/>
<rect x="447.9" y="838.9" width="4.2" height="4.2" fill="#4268b4"/>
<rect x="453.9" y="839.9" width="4.2" height="4.2" fill="#4268b4"/>
<line x1="155.16" y1="1033.00" x2="155.16" y2="1021.00" stroke="#000" stroke-width="2.3" />
<line x1="155.16" y1="773.00" x2="155.16" y2="785.00" stroke="#000" stroke-width="2.3" />
<line x1="194.10" y1="1033.00" x2="194.10" y2="1026.00" stroke="#000" stroke-width="2.3" />
<line x1="194.10" y1="773.00" x2="194.10" y2="780.00" stroke="#000" stroke-width="2.3" />
<line x1="233.04" y1="1033.00" x2="233.04" y2="1021.00" stroke="#000" stroke-width="2.3" />
<line x1="233.04" y1="773.00" x2="233.04" y2="785.00" stroke="#000" stroke-width="2.3" />
<line x1="271.99" y1="1033.00" x2="271.99" y2="1026.00" stroke="#000" stroke-width="2.3" />
<line x1="271.99" y1="773.00" x2="271.99" y2="780.00" stroke="#000" stroke-width="2.3" />
<line x1="310.93" y1="1033.00" x2="310.93" y2="1021.00" stroke="#000" stroke-width="2.3" />
<line x1="310.93" y1="773.00" x2="310.93" y2="785.00" stroke="#000" stroke-width="2.3" />
<line x1="349.88" y1="1033.00" x2="349.88" y2="1026.00" stroke="#000" stroke-width="2.3" />
<line x1="349.88" y1="773.00" x2="349.88" y2="780.00" stroke="#000" stroke-width="2.3" />
<line x1="388.82" y1="1033.00" x2="388.82" y2="1021.00" stroke="#000" stroke-width="2.3" />
<line x1="388.82" y1="773.00" x2="388.82" y2="785.00" stroke="#000" stroke-width="2.3" />
<line x1="427.77" y1="1033.00" x2="427.77" y2="1026.00" stroke="#000" stroke-width="2.3" />
<line x1="427.77" y1="773.00" x2="427.77" y2="780.00" stroke="#000" stroke-width="2.3" />
<line x1="466.71" y1="1033.00" x2="466.71" y2="1021.00" stroke="#000" stroke-width="2.3" />
<line x1="466.71" y1="773.00" x2="466.71" y2="785.00" stroke="#000" stroke-width="2.3" />
<line x1="505.66" y1="1033.00" x2="505.66" y2="1026.00" stroke="#000" stroke-width="2.3" />
<line x1="505.66" y1="773.00" x2="505.66" y2="780.00" stroke="#000" stroke-width="2.3" />
<text x="155.16" y="1063.20" font-size="25.3" text-anchor="middle" >50</text>
<text x="233.04" y="1063.20" font-size="25.3" text-anchor="middle" >100</text>
<text x="310.93" y="1063.20" font-size="25.3" text-anchor="middle" >150</text>
<text x="388.82" y="1063.20" font-size="25.3" text-anchor="middle" >200</text>
<text x="466.71" y="1063.20" font-size="25.3" text-anchor="middle" >250</text>
<text x="544.60" y="1063.20" font-size="25.3" text-anchor="middle" >300</text>
<line x1="124.00" y1="981.60" x2="131.00" y2="981.60" stroke="#000" stroke-width="2.3" />
<line x1="544.60" y1="981.60" x2="537.60" y2="981.60" stroke="#000" stroke-width="2.3" />
<line x1="124.00" y1="931.70" x2="136.00" y2="931.70" stroke="#000" stroke-width="2.3" />
<line x1="544.60" y1="931.70" x2="532.60" y2="931.70" stroke="#000" stroke-width="2.3" />
<line x1="124.00" y1="881.80" x2="131.00" y2="881.80" stroke="#000" stroke-width="2.3" />
<line x1="544.60" y1="881.80" x2="537.60" y2="881.80" stroke="#000" stroke-width="2.3" />
<line x1="124.00" y1="831.90" x2="136.00" y2="831.90" stroke="#000" stroke-width="2.3" />
<line x1="544.60" y1="831.90" x2="532.60" y2="831.90" stroke="#000" stroke-width="2.3" />
<line x1="124.00" y1="782.00" x2="131.00" y2="782.00" stroke="#000" stroke-width="2.3" />
<line x1="544.60" y1="782.00" x2="537.60" y2="782.00" stroke="#000" stroke-width="2.3" />
<text x="110.30" y="838.35" font-size="25.3" text-anchor="end" >4</text>
<text x="110.30" y="938.85" font-size="25.3" text-anchor="end" >2</text>
<text x="110.30" y="1038.85" font-size="25.3" text-anchor="end" >0</text>
<text x="20.80" y="753.50" font-size="31" text-anchor="start" font-weight="bold">(c)</text>
<text x="292.50" y="1110.20" font-size="31" text-anchor="start" >T [ K ]</text>
<text transform="translate(77.2,999) rotate(-90)" font-size="30.5"><tspan font-style="italic">M</tspan><tspan> [ μ</tspan><tspan font-size="17" dy="9.6">B</tspan><tspan dy="-9.6"> per Eu ]</tspan></text>
</svg></body></html>
